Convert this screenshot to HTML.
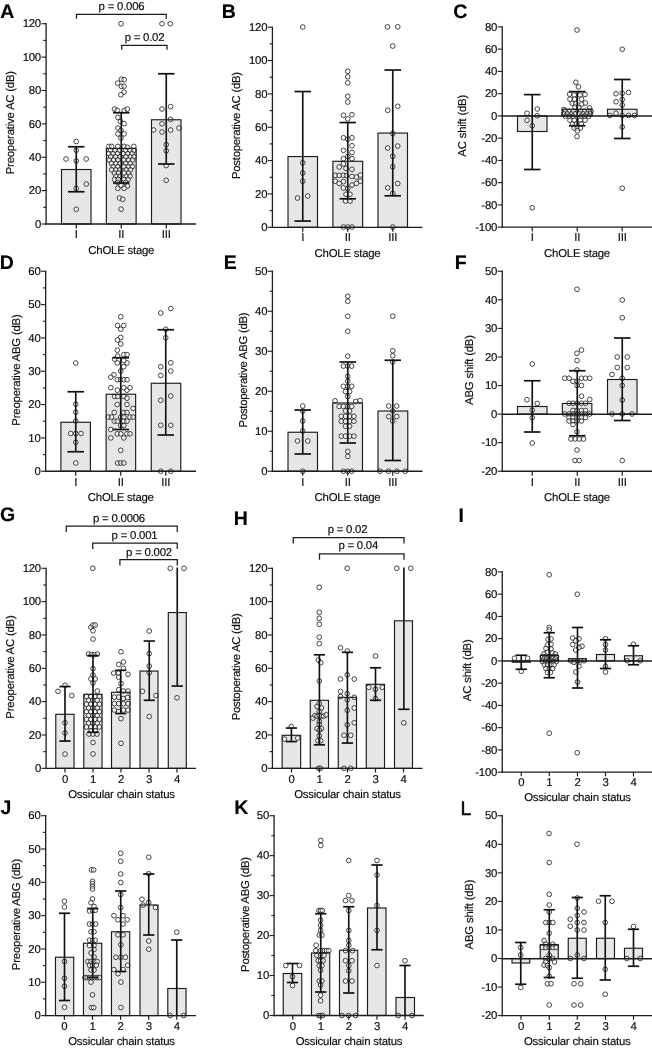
<!DOCTYPE html>
<html><head><meta charset="utf-8"><title>Figure</title>
<style>html,body{margin:0;padding:0;background:#fff}svg{display:block;will-change:transform}text{text-rendering:geometricPrecision;letter-spacing:-0.22px}</style></head>
<body>
<svg width="652" height="1049" viewBox="0 0 652 1049" font-family="'Liberation Sans', sans-serif">
<defs><pattern id="dots" width="2" height="2" patternUnits="userSpaceOnUse"><rect width="2" height="2" fill="#efefef"/><rect width="1" height="1" fill="#dedede"/><rect x="1" y="1" width="1" height="1" fill="#dedede"/></pattern></defs>
<rect width="652" height="1049" fill="#fff"/>
<rect x="61.50" y="169.50" width="29.50" height="54.50" fill="url(#dots)"/>
<rect x="106.38" y="148.50" width="29.75" height="75.50" fill="url(#dots)"/>
<rect x="151.50" y="119.75" width="29.50" height="104.25" fill="url(#dots)"/>
<g fill="#fff" fill-opacity="0.5" stroke="#1e1e1e" stroke-width="0.82">
<circle cx="76.25" cy="141.50" r="2.35"/>
<circle cx="76.25" cy="150.25" r="2.35"/>
<circle cx="66.00" cy="159.00" r="2.35"/>
<circle cx="86.25" cy="159.00" r="2.35"/>
<circle cx="76.25" cy="161.00" r="2.35"/>
<circle cx="86.25" cy="184.00" r="2.35"/>
<circle cx="76.25" cy="188.50" r="2.35"/>
<circle cx="76.25" cy="209.25" r="2.35"/>
<circle cx="162.00" cy="23.75" r="2.35"/>
<circle cx="170.25" cy="23.75" r="2.35"/>
<circle cx="162.00" cy="109.00" r="2.35"/>
<circle cx="170.60" cy="106.60" r="2.35"/>
<circle cx="170.60" cy="119.40" r="2.35"/>
<circle cx="162.00" cy="123.80" r="2.35"/>
<circle cx="153.70" cy="130.00" r="2.35"/>
<circle cx="179.00" cy="128.00" r="2.35"/>
<circle cx="162.00" cy="132.00" r="2.35"/>
<circle cx="170.60" cy="130.00" r="2.35"/>
<circle cx="166.20" cy="144.70" r="2.35"/>
<circle cx="166.20" cy="150.80" r="2.35"/>
<circle cx="166.20" cy="165.60" r="2.35"/>
<circle cx="166.20" cy="180.30" r="2.35"/>
<circle cx="121.00" cy="23.75" r="2.35"/>
<circle cx="121.40" cy="79.20" r="2.35"/>
<circle cx="124.10" cy="79.70" r="2.35"/>
<circle cx="117.70" cy="83.10" r="2.35"/>
<circle cx="121.40" cy="86.40" r="2.35"/>
<circle cx="124.10" cy="86.10" r="2.35"/>
<circle cx="124.10" cy="92.10" r="2.35"/>
<circle cx="120.90" cy="94.70" r="2.35"/>
<circle cx="114.50" cy="109.10" r="2.35"/>
<circle cx="117.20" cy="110.50" r="2.35"/>
<circle cx="124.10" cy="110.50" r="2.35"/>
<circle cx="127.30" cy="109.10" r="2.35"/>
<circle cx="117.90" cy="117.40" r="2.35"/>
<circle cx="120.40" cy="121.50" r="2.35"/>
<circle cx="124.10" cy="123.60" r="2.35"/>
<circle cx="117.90" cy="128.00" r="2.35"/>
<circle cx="120.90" cy="130.30" r="2.35"/>
<circle cx="117.90" cy="133.90" r="2.35"/>
<circle cx="124.10" cy="133.90" r="2.35"/>
<circle cx="120.90" cy="138.10" r="2.35"/>
<circle cx="108.90" cy="146.40" r="2.35"/>
<circle cx="111.70" cy="146.40" r="2.35"/>
<circle cx="117.90" cy="146.40" r="2.35"/>
<circle cx="124.10" cy="146.40" r="2.35"/>
<circle cx="127.30" cy="147.30" r="2.35"/>
<circle cx="133.80" cy="146.40" r="2.35"/>
<circle cx="110.40" cy="150.40" r="2.35"/>
<circle cx="115.00" cy="150.40" r="2.35"/>
<circle cx="119.40" cy="150.40" r="2.35"/>
<circle cx="125.60" cy="150.40" r="2.35"/>
<circle cx="130.00" cy="150.40" r="2.35"/>
<circle cx="133.80" cy="150.40" r="2.35"/>
<circle cx="108.80" cy="153.60" r="2.35"/>
<circle cx="113.00" cy="153.60" r="2.35"/>
<circle cx="117.40" cy="153.60" r="2.35"/>
<circle cx="123.00" cy="153.60" r="2.35"/>
<circle cx="127.80" cy="153.60" r="2.35"/>
<circle cx="132.00" cy="153.60" r="2.35"/>
<circle cx="110.80" cy="156.80" r="2.35"/>
<circle cx="115.40" cy="156.80" r="2.35"/>
<circle cx="120.00" cy="156.80" r="2.35"/>
<circle cx="126.00" cy="156.80" r="2.35"/>
<circle cx="130.40" cy="156.80" r="2.35"/>
<circle cx="134.00" cy="156.80" r="2.35"/>
<circle cx="109.20" cy="160.00" r="2.35"/>
<circle cx="113.60" cy="160.00" r="2.35"/>
<circle cx="118.00" cy="160.00" r="2.35"/>
<circle cx="124.00" cy="160.00" r="2.35"/>
<circle cx="128.60" cy="160.00" r="2.35"/>
<circle cx="132.60" cy="160.00" r="2.35"/>
<circle cx="111.60" cy="163.40" r="2.35"/>
<circle cx="116.00" cy="163.40" r="2.35"/>
<circle cx="120.20" cy="163.40" r="2.35"/>
<circle cx="125.80" cy="163.40" r="2.35"/>
<circle cx="130.20" cy="163.40" r="2.35"/>
<circle cx="113.20" cy="166.60" r="2.35"/>
<circle cx="117.60" cy="166.60" r="2.35"/>
<circle cx="124.00" cy="166.60" r="2.35"/>
<circle cx="128.40" cy="166.60" r="2.35"/>
<circle cx="132.20" cy="166.60" r="2.35"/>
<circle cx="111.80" cy="169.80" r="2.35"/>
<circle cx="115.80" cy="169.80" r="2.35"/>
<circle cx="120.00" cy="169.80" r="2.35"/>
<circle cx="126.20" cy="169.80" r="2.35"/>
<circle cx="130.40" cy="169.80" r="2.35"/>
<circle cx="114.40" cy="173.00" r="2.35"/>
<circle cx="118.40" cy="173.00" r="2.35"/>
<circle cx="124.40" cy="173.00" r="2.35"/>
<circle cx="128.60" cy="173.00" r="2.35"/>
<circle cx="116.00" cy="176.20" r="2.35"/>
<circle cx="120.00" cy="176.20" r="2.35"/>
<circle cx="126.20" cy="176.20" r="2.35"/>
<circle cx="130.00" cy="176.20" r="2.35"/>
<circle cx="114.60" cy="179.40" r="2.35"/>
<circle cx="118.20" cy="179.40" r="2.35"/>
<circle cx="124.20" cy="179.40" r="2.35"/>
<circle cx="128.00" cy="179.40" r="2.35"/>
<circle cx="117.60" cy="182.40" r="2.35"/>
<circle cx="125.60" cy="182.40" r="2.35"/>
<circle cx="127.30" cy="186.00" r="2.35"/>
<circle cx="121.00" cy="185.50" r="2.35"/>
<circle cx="117.70" cy="188.30" r="2.35"/>
<circle cx="124.10" cy="188.30" r="2.35"/>
<circle cx="119.50" cy="198.00" r="2.35"/>
<circle cx="122.70" cy="199.30" r="2.35"/>
<circle cx="121.10" cy="209.20" r="2.35"/>
</g>
<rect x="61.50" y="169.50" width="29.50" height="54.50" fill="none" stroke="#1c1c1c" stroke-width="1.15"/>
<rect x="106.38" y="148.50" width="29.75" height="75.50" fill="none" stroke="#1c1c1c" stroke-width="1.15"/>
<rect x="151.50" y="119.75" width="29.50" height="104.25" fill="none" stroke="#1c1c1c" stroke-width="1.15"/>
<line x1="76.25" y1="146.75" x2="76.25" y2="191.75" stroke="#111" stroke-width="1.65" stroke-linecap="butt"/>
<line x1="68.00" y1="146.75" x2="84.50" y2="146.75" stroke="#111" stroke-width="1.7" stroke-linecap="butt"/>
<line x1="68.00" y1="191.75" x2="84.50" y2="191.75" stroke="#111" stroke-width="1.7" stroke-linecap="butt"/>
<line x1="121.25" y1="112.75" x2="121.25" y2="183.00" stroke="#111" stroke-width="1.65" stroke-linecap="butt"/>
<line x1="113.00" y1="112.75" x2="129.50" y2="112.75" stroke="#111" stroke-width="1.7" stroke-linecap="butt"/>
<line x1="113.00" y1="183.00" x2="129.50" y2="183.00" stroke="#111" stroke-width="1.7" stroke-linecap="butt"/>
<line x1="166.25" y1="73.75" x2="166.25" y2="164.00" stroke="#111" stroke-width="1.65" stroke-linecap="butt"/>
<line x1="158.00" y1="73.75" x2="174.50" y2="73.75" stroke="#111" stroke-width="1.7" stroke-linecap="butt"/>
<line x1="158.00" y1="164.00" x2="174.50" y2="164.00" stroke="#111" stroke-width="1.7" stroke-linecap="butt"/>
<line x1="46.10" y1="23.10" x2="46.10" y2="224.65" stroke="#1c1c1c" stroke-width="1.3" stroke-linecap="butt"/>
<line x1="41.50" y1="23.72" x2="46.10" y2="23.72" stroke="#1c1c1c" stroke-width="1.1" stroke-linecap="butt"/>
<text x="41.00" y="27.42" font-size="11.4" text-anchor="end" fill="#0a0a0a" stroke="#0a0a0a" stroke-width="0.15">120</text>
<line x1="41.50" y1="57.10" x2="46.10" y2="57.10" stroke="#1c1c1c" stroke-width="1.1" stroke-linecap="butt"/>
<text x="41.00" y="60.80" font-size="11.4" text-anchor="end" fill="#0a0a0a" stroke="#0a0a0a" stroke-width="0.15">100</text>
<line x1="41.50" y1="90.48" x2="46.10" y2="90.48" stroke="#1c1c1c" stroke-width="1.1" stroke-linecap="butt"/>
<text x="41.00" y="94.18" font-size="11.4" text-anchor="end" fill="#0a0a0a" stroke="#0a0a0a" stroke-width="0.15">80</text>
<line x1="41.50" y1="123.86" x2="46.10" y2="123.86" stroke="#1c1c1c" stroke-width="1.1" stroke-linecap="butt"/>
<text x="41.00" y="127.56" font-size="11.4" text-anchor="end" fill="#0a0a0a" stroke="#0a0a0a" stroke-width="0.15">60</text>
<line x1="41.50" y1="157.24" x2="46.10" y2="157.24" stroke="#1c1c1c" stroke-width="1.1" stroke-linecap="butt"/>
<text x="41.00" y="160.94" font-size="11.4" text-anchor="end" fill="#0a0a0a" stroke="#0a0a0a" stroke-width="0.15">40</text>
<line x1="41.50" y1="190.62" x2="46.10" y2="190.62" stroke="#1c1c1c" stroke-width="1.1" stroke-linecap="butt"/>
<text x="41.00" y="194.32" font-size="11.4" text-anchor="end" fill="#0a0a0a" stroke="#0a0a0a" stroke-width="0.15">20</text>
<line x1="41.50" y1="224.00" x2="46.10" y2="224.00" stroke="#1c1c1c" stroke-width="1.1" stroke-linecap="butt"/>
<text x="41.00" y="227.70" font-size="11.4" text-anchor="end" fill="#0a0a0a" stroke="#0a0a0a" stroke-width="0.15">0</text>
<line x1="43.30" y1="40.41" x2="46.10" y2="40.41" stroke="#1c1c1c" stroke-width="1.1" stroke-linecap="butt"/>
<line x1="43.30" y1="73.79" x2="46.10" y2="73.79" stroke="#1c1c1c" stroke-width="1.1" stroke-linecap="butt"/>
<line x1="43.30" y1="107.17" x2="46.10" y2="107.17" stroke="#1c1c1c" stroke-width="1.1" stroke-linecap="butt"/>
<line x1="43.30" y1="140.55" x2="46.10" y2="140.55" stroke="#1c1c1c" stroke-width="1.1" stroke-linecap="butt"/>
<line x1="43.30" y1="173.93" x2="46.10" y2="173.93" stroke="#1c1c1c" stroke-width="1.1" stroke-linecap="butt"/>
<line x1="43.30" y1="207.31" x2="46.10" y2="207.31" stroke="#1c1c1c" stroke-width="1.1" stroke-linecap="butt"/>
<line x1="45.45" y1="224.00" x2="196.00" y2="224.00" stroke="#1c1c1c" stroke-width="1.3" stroke-linecap="butt"/>
<line x1="76.25" y1="224.00" x2="76.25" y2="228.40" stroke="#1c1c1c" stroke-width="1.2" stroke-linecap="butt"/>
<text x="76.25" y="238.00" font-size="11.4" text-anchor="middle" fill="#0a0a0a" stroke="#0a0a0a" stroke-width="0.15">I</text>
<line x1="121.25" y1="224.00" x2="121.25" y2="228.40" stroke="#1c1c1c" stroke-width="1.2" stroke-linecap="butt"/>
<text x="121.25" y="238.00" font-size="11.4" text-anchor="middle" fill="#0a0a0a" stroke="#0a0a0a" stroke-width="0.15">II</text>
<line x1="166.25" y1="224.00" x2="166.25" y2="228.40" stroke="#1c1c1c" stroke-width="1.2" stroke-linecap="butt"/>
<text x="166.25" y="238.00" font-size="11.4" text-anchor="middle" fill="#0a0a0a" stroke="#0a0a0a" stroke-width="0.15">III</text>
<text x="121.25" y="254.00" font-size="11.4" text-anchor="middle" fill="#0a0a0a" stroke="#0a0a0a" stroke-width="0.15">ChOLE stage</text>
<text x="13.60" y="122.70" font-size="11.4" text-anchor="middle" transform="rotate(-90 13.60 122.70)" fill="#0a0a0a" stroke="#0a0a0a" stroke-width="0.15">Preoperative AC (dB)</text>
<text x="0.30" y="18.00" font-size="19.5" text-anchor="start" font-weight="bold" fill="#000" stroke="#000" stroke-width="0.15">A</text>
<path d="M76.50 18.75V14.25H166.25V18.75" fill="none" stroke="#1c1c1c" stroke-width="1.25"/>
<text x="121.50" y="9.50" font-size="11.4" text-anchor="middle" fill="#0a0a0a" stroke="#0a0a0a" stroke-width="0.15">p = 0.006</text>
<path d="M121.75 49.75V45.25H167.00V49.75" fill="none" stroke="#1c1c1c" stroke-width="1.25"/>
<text x="144.50" y="40.50" font-size="11.4" text-anchor="middle" fill="#0a0a0a" stroke="#0a0a0a" stroke-width="0.15">p = 0.02</text>
<rect x="288.00" y="156.55" width="29.50" height="70.75" fill="url(#dots)"/>
<rect x="332.88" y="161.30" width="29.75" height="66.00" fill="url(#dots)"/>
<rect x="378.00" y="133.05" width="29.50" height="94.25" fill="url(#dots)"/>
<g fill="#fff" fill-opacity="0.5" stroke="#1e1e1e" stroke-width="0.82">
<circle cx="302.75" cy="27.05" r="2.35"/>
<circle cx="302.75" cy="162.80" r="2.35"/>
<circle cx="302.75" cy="173.05" r="2.35"/>
<circle cx="302.75" cy="181.30" r="2.35"/>
<circle cx="297.50" cy="198.05" r="2.35"/>
<circle cx="307.75" cy="196.05" r="2.35"/>
<circle cx="387.50" cy="26.80" r="2.35"/>
<circle cx="397.75" cy="26.80" r="2.35"/>
<circle cx="392.75" cy="46.05" r="2.35"/>
<circle cx="387.75" cy="110.30" r="2.35"/>
<circle cx="397.75" cy="106.30" r="2.35"/>
<circle cx="392.75" cy="133.55" r="2.35"/>
<circle cx="387.75" cy="148.05" r="2.35"/>
<circle cx="397.75" cy="146.05" r="2.35"/>
<circle cx="392.75" cy="156.30" r="2.35"/>
<circle cx="392.75" cy="166.80" r="2.35"/>
<circle cx="397.75" cy="183.55" r="2.35"/>
<circle cx="387.75" cy="187.80" r="2.35"/>
<circle cx="392.75" cy="193.55" r="2.35"/>
<circle cx="392.75" cy="227.05" r="2.35"/>
<circle cx="347.75" cy="71.30" r="2.35"/>
<circle cx="347.75" cy="76.80" r="2.35"/>
<circle cx="347.75" cy="82.80" r="2.35"/>
<circle cx="347.75" cy="96.30" r="2.35"/>
<circle cx="347.75" cy="102.05" r="2.35"/>
<circle cx="343.40" cy="115.25" r="2.35"/>
<circle cx="352.00" cy="114.65" r="2.35"/>
<circle cx="347.80" cy="118.95" r="2.35"/>
<circle cx="343.40" cy="137.75" r="2.35"/>
<circle cx="352.00" cy="137.75" r="2.35"/>
<circle cx="347.80" cy="139.25" r="2.35"/>
<circle cx="352.00" cy="145.75" r="2.35"/>
<circle cx="343.40" cy="150.35" r="2.35"/>
<circle cx="352.00" cy="152.45" r="2.35"/>
<circle cx="347.80" cy="156.45" r="2.35"/>
<circle cx="343.40" cy="158.75" r="2.35"/>
<circle cx="352.00" cy="158.75" r="2.35"/>
<circle cx="343.40" cy="163.85" r="2.35"/>
<circle cx="339.20" cy="166.95" r="2.35"/>
<circle cx="346.00" cy="168.45" r="2.35"/>
<circle cx="352.00" cy="169.25" r="2.35"/>
<circle cx="335.20" cy="175.35" r="2.35"/>
<circle cx="339.20" cy="175.35" r="2.35"/>
<circle cx="343.40" cy="175.35" r="2.35"/>
<circle cx="346.50" cy="175.65" r="2.35"/>
<circle cx="352.00" cy="176.45" r="2.35"/>
<circle cx="356.40" cy="177.05" r="2.35"/>
<circle cx="360.40" cy="175.05" r="2.35"/>
<circle cx="335.20" cy="181.25" r="2.35"/>
<circle cx="339.20" cy="183.35" r="2.35"/>
<circle cx="343.40" cy="181.65" r="2.35"/>
<circle cx="352.00" cy="185.05" r="2.35"/>
<circle cx="356.40" cy="183.35" r="2.35"/>
<circle cx="360.40" cy="181.25" r="2.35"/>
<circle cx="343.40" cy="187.95" r="2.35"/>
<circle cx="347.80" cy="188.55" r="2.35"/>
<circle cx="346.00" cy="194.25" r="2.35"/>
<circle cx="350.00" cy="194.25" r="2.35"/>
<circle cx="345.50" cy="201.05" r="2.35"/>
<circle cx="350.00" cy="201.05" r="2.35"/>
<circle cx="343.40" cy="227.05" r="2.35"/>
<circle cx="347.80" cy="227.05" r="2.35"/>
<circle cx="352.00" cy="227.05" r="2.35"/>
</g>
<rect x="288.00" y="156.55" width="29.50" height="70.75" fill="none" stroke="#1c1c1c" stroke-width="1.15"/>
<rect x="332.88" y="161.30" width="29.75" height="66.00" fill="none" stroke="#1c1c1c" stroke-width="1.15"/>
<rect x="378.00" y="133.05" width="29.50" height="94.25" fill="none" stroke="#1c1c1c" stroke-width="1.15"/>
<line x1="302.75" y1="91.55" x2="302.75" y2="221.05" stroke="#111" stroke-width="1.65" stroke-linecap="butt"/>
<line x1="294.50" y1="91.55" x2="311.00" y2="91.55" stroke="#111" stroke-width="1.7" stroke-linecap="butt"/>
<line x1="294.50" y1="221.05" x2="311.00" y2="221.05" stroke="#111" stroke-width="1.7" stroke-linecap="butt"/>
<line x1="347.75" y1="122.55" x2="347.75" y2="198.80" stroke="#111" stroke-width="1.65" stroke-linecap="butt"/>
<line x1="339.50" y1="122.55" x2="356.00" y2="122.55" stroke="#111" stroke-width="1.7" stroke-linecap="butt"/>
<line x1="339.50" y1="198.80" x2="356.00" y2="198.80" stroke="#111" stroke-width="1.7" stroke-linecap="butt"/>
<line x1="392.75" y1="70.05" x2="392.75" y2="195.80" stroke="#111" stroke-width="1.65" stroke-linecap="butt"/>
<line x1="384.50" y1="70.05" x2="401.00" y2="70.05" stroke="#111" stroke-width="1.7" stroke-linecap="butt"/>
<line x1="384.50" y1="195.80" x2="401.00" y2="195.80" stroke="#111" stroke-width="1.7" stroke-linecap="butt"/>
<line x1="272.40" y1="26.60" x2="272.40" y2="228.00" stroke="#1c1c1c" stroke-width="1.3" stroke-linecap="butt"/>
<line x1="267.80" y1="27.20" x2="272.40" y2="27.20" stroke="#1c1c1c" stroke-width="1.1" stroke-linecap="butt"/>
<text x="267.30" y="30.90" font-size="11.4" text-anchor="end" fill="#0a0a0a" stroke="#0a0a0a" stroke-width="0.15">120</text>
<line x1="267.80" y1="60.55" x2="272.40" y2="60.55" stroke="#1c1c1c" stroke-width="1.1" stroke-linecap="butt"/>
<text x="267.30" y="64.25" font-size="11.4" text-anchor="end" fill="#0a0a0a" stroke="#0a0a0a" stroke-width="0.15">100</text>
<line x1="267.80" y1="93.90" x2="272.40" y2="93.90" stroke="#1c1c1c" stroke-width="1.1" stroke-linecap="butt"/>
<text x="267.30" y="97.60" font-size="11.4" text-anchor="end" fill="#0a0a0a" stroke="#0a0a0a" stroke-width="0.15">80</text>
<line x1="267.80" y1="127.25" x2="272.40" y2="127.25" stroke="#1c1c1c" stroke-width="1.1" stroke-linecap="butt"/>
<text x="267.30" y="130.95" font-size="11.4" text-anchor="end" fill="#0a0a0a" stroke="#0a0a0a" stroke-width="0.15">60</text>
<line x1="267.80" y1="160.60" x2="272.40" y2="160.60" stroke="#1c1c1c" stroke-width="1.1" stroke-linecap="butt"/>
<text x="267.30" y="164.30" font-size="11.4" text-anchor="end" fill="#0a0a0a" stroke="#0a0a0a" stroke-width="0.15">40</text>
<line x1="267.80" y1="193.95" x2="272.40" y2="193.95" stroke="#1c1c1c" stroke-width="1.1" stroke-linecap="butt"/>
<text x="267.30" y="197.65" font-size="11.4" text-anchor="end" fill="#0a0a0a" stroke="#0a0a0a" stroke-width="0.15">20</text>
<line x1="267.80" y1="227.30" x2="272.40" y2="227.30" stroke="#1c1c1c" stroke-width="1.1" stroke-linecap="butt"/>
<text x="267.30" y="231.00" font-size="11.4" text-anchor="end" fill="#0a0a0a" stroke="#0a0a0a" stroke-width="0.15">0</text>
<line x1="269.60" y1="43.88" x2="272.40" y2="43.88" stroke="#1c1c1c" stroke-width="1.1" stroke-linecap="butt"/>
<line x1="269.60" y1="77.23" x2="272.40" y2="77.23" stroke="#1c1c1c" stroke-width="1.1" stroke-linecap="butt"/>
<line x1="269.60" y1="110.58" x2="272.40" y2="110.58" stroke="#1c1c1c" stroke-width="1.1" stroke-linecap="butt"/>
<line x1="269.60" y1="143.93" x2="272.40" y2="143.93" stroke="#1c1c1c" stroke-width="1.1" stroke-linecap="butt"/>
<line x1="269.60" y1="177.28" x2="272.40" y2="177.28" stroke="#1c1c1c" stroke-width="1.1" stroke-linecap="butt"/>
<line x1="269.60" y1="210.62" x2="272.40" y2="210.62" stroke="#1c1c1c" stroke-width="1.1" stroke-linecap="butt"/>
<line x1="271.75" y1="227.30" x2="422.50" y2="227.30" stroke="#1c1c1c" stroke-width="1.3" stroke-linecap="butt"/>
<line x1="302.75" y1="227.30" x2="302.75" y2="231.70" stroke="#1c1c1c" stroke-width="1.2" stroke-linecap="butt"/>
<text x="302.75" y="241.00" font-size="11.4" text-anchor="middle" fill="#0a0a0a" stroke="#0a0a0a" stroke-width="0.15">I</text>
<line x1="347.75" y1="227.30" x2="347.75" y2="231.70" stroke="#1c1c1c" stroke-width="1.2" stroke-linecap="butt"/>
<text x="347.75" y="241.00" font-size="11.4" text-anchor="middle" fill="#0a0a0a" stroke="#0a0a0a" stroke-width="0.15">II</text>
<line x1="392.75" y1="227.30" x2="392.75" y2="231.70" stroke="#1c1c1c" stroke-width="1.2" stroke-linecap="butt"/>
<text x="392.75" y="241.00" font-size="11.4" text-anchor="middle" fill="#0a0a0a" stroke="#0a0a0a" stroke-width="0.15">III</text>
<text x="347.50" y="256.75" font-size="11.4" text-anchor="middle" fill="#0a0a0a" stroke="#0a0a0a" stroke-width="0.15">ChOLE stage</text>
<text x="240.10" y="125.60" font-size="11.4" text-anchor="middle" transform="rotate(-90 240.10 125.60)" style="letter-spacing:-0.28px" fill="#0a0a0a" stroke="#0a0a0a" stroke-width="0.15">Postoperative AC (dB)</text>
<text x="221.80" y="18.00" font-size="19.5" text-anchor="start" font-weight="bold" fill="#000" stroke="#000" stroke-width="0.15">B</text>
<rect x="517.50" y="115.90" width="29.50" height="15.60" fill="url(#dots)"/>
<rect x="562.35" y="109.25" width="29.50" height="6.65" fill="url(#dots)"/>
<rect x="607.50" y="109.25" width="29.50" height="6.65" fill="url(#dots)"/>
<g fill="#fff" fill-opacity="0.5" stroke="#1e1e1e" stroke-width="0.82">
<circle cx="527.00" cy="113.25" r="2.35"/>
<circle cx="537.25" cy="109.00" r="2.35"/>
<circle cx="527.00" cy="120.25" r="2.35"/>
<circle cx="537.25" cy="115.75" r="2.35"/>
<circle cx="532.25" cy="125.75" r="2.35"/>
<circle cx="532.25" cy="207.75" r="2.35"/>
<circle cx="622.25" cy="49.25" r="2.35"/>
<circle cx="616.00" cy="93.75" r="2.35"/>
<circle cx="622.25" cy="93.25" r="2.35"/>
<circle cx="628.50" cy="92.50" r="2.35"/>
<circle cx="616.00" cy="101.75" r="2.35"/>
<circle cx="622.25" cy="99.50" r="2.35"/>
<circle cx="622.25" cy="105.00" r="2.35"/>
<circle cx="616.00" cy="113.25" r="2.35"/>
<circle cx="609.75" cy="115.50" r="2.35"/>
<circle cx="622.25" cy="115.50" r="2.35"/>
<circle cx="628.50" cy="115.50" r="2.35"/>
<circle cx="634.50" cy="115.50" r="2.35"/>
<circle cx="622.25" cy="127.00" r="2.35"/>
<circle cx="622.25" cy="188.25" r="2.35"/>
<circle cx="577.00" cy="30.00" r="2.35"/>
<circle cx="577.00" cy="136.50" r="2.35"/>
<circle cx="575.80" cy="82.30" r="2.35"/>
<circle cx="578.50" cy="86.90" r="2.35"/>
<circle cx="569.60" cy="94.20" r="2.35"/>
<circle cx="574.20" cy="95.00" r="2.35"/>
<circle cx="580.00" cy="95.00" r="2.35"/>
<circle cx="585.00" cy="94.50" r="2.35"/>
<circle cx="570.00" cy="99.20" r="2.35"/>
<circle cx="574.60" cy="99.20" r="2.35"/>
<circle cx="581.50" cy="99.20" r="2.35"/>
<circle cx="572.30" cy="103.40" r="2.35"/>
<circle cx="575.80" cy="103.80" r="2.35"/>
<circle cx="581.90" cy="104.10" r="2.35"/>
<circle cx="585.40" cy="103.00" r="2.35"/>
<circle cx="575.00" cy="107.20" r="2.35"/>
<circle cx="578.80" cy="107.90" r="2.35"/>
<circle cx="589.60" cy="107.90" r="2.35"/>
<circle cx="563.90" cy="109.50" r="2.35"/>
<circle cx="565.50" cy="111.30" r="2.35"/>
<circle cx="569.30" cy="111.30" r="2.35"/>
<circle cx="573.00" cy="111.30" r="2.35"/>
<circle cx="580.80" cy="111.30" r="2.35"/>
<circle cx="584.60" cy="111.30" r="2.35"/>
<circle cx="588.40" cy="111.30" r="2.35"/>
<circle cx="591.00" cy="111.30" r="2.35"/>
<circle cx="563.60" cy="113.80" r="2.35"/>
<circle cx="567.40" cy="113.80" r="2.35"/>
<circle cx="571.20" cy="113.80" r="2.35"/>
<circle cx="575.00" cy="113.80" r="2.35"/>
<circle cx="579.50" cy="113.80" r="2.35"/>
<circle cx="583.00" cy="113.80" r="2.35"/>
<circle cx="586.70" cy="113.80" r="2.35"/>
<circle cx="590.30" cy="113.80" r="2.35"/>
<circle cx="565.50" cy="116.30" r="2.35"/>
<circle cx="569.30" cy="116.30" r="2.35"/>
<circle cx="573.00" cy="116.30" r="2.35"/>
<circle cx="581.00" cy="116.30" r="2.35"/>
<circle cx="584.80" cy="116.30" r="2.35"/>
<circle cx="588.60" cy="116.30" r="2.35"/>
<circle cx="570.00" cy="120.20" r="2.35"/>
<circle cx="574.20" cy="120.20" r="2.35"/>
<circle cx="580.40" cy="120.20" r="2.35"/>
<circle cx="585.00" cy="120.20" r="2.35"/>
<circle cx="572.50" cy="124.00" r="2.35"/>
<circle cx="576.30" cy="124.00" r="2.35"/>
<circle cx="581.20" cy="124.00" r="2.35"/>
<circle cx="574.20" cy="128.00" r="2.35"/>
<circle cx="577.30" cy="128.00" r="2.35"/>
<circle cx="580.40" cy="128.00" r="2.35"/>
<circle cx="577.30" cy="130.80" r="2.35"/>
</g>
<rect x="517.50" y="115.90" width="29.50" height="15.60" fill="none" stroke="#1c1c1c" stroke-width="1.15"/>
<rect x="562.35" y="109.25" width="29.50" height="6.65" fill="none" stroke="#1c1c1c" stroke-width="1.15"/>
<rect x="607.50" y="109.25" width="29.50" height="6.65" fill="none" stroke="#1c1c1c" stroke-width="1.15"/>
<line x1="532.25" y1="94.60" x2="532.25" y2="169.50" stroke="#111" stroke-width="1.65" stroke-linecap="butt"/>
<line x1="524.00" y1="94.60" x2="540.50" y2="94.60" stroke="#111" stroke-width="1.7" stroke-linecap="butt"/>
<line x1="524.00" y1="169.50" x2="540.50" y2="169.50" stroke="#111" stroke-width="1.7" stroke-linecap="butt"/>
<line x1="577.25" y1="91.60" x2="577.25" y2="125.75" stroke="#111" stroke-width="1.65" stroke-linecap="butt"/>
<line x1="569.00" y1="91.60" x2="585.50" y2="91.60" stroke="#111" stroke-width="1.7" stroke-linecap="butt"/>
<line x1="569.00" y1="125.75" x2="585.50" y2="125.75" stroke="#111" stroke-width="1.7" stroke-linecap="butt"/>
<line x1="622.25" y1="79.50" x2="622.25" y2="138.50" stroke="#111" stroke-width="1.65" stroke-linecap="butt"/>
<line x1="614.00" y1="79.50" x2="630.50" y2="79.50" stroke="#111" stroke-width="1.7" stroke-linecap="butt"/>
<line x1="614.00" y1="138.50" x2="630.50" y2="138.50" stroke="#111" stroke-width="1.7" stroke-linecap="butt"/>
<line x1="502.25" y1="26.35" x2="502.25" y2="227.80" stroke="#1c1c1c" stroke-width="1.3" stroke-linecap="butt"/>
<line x1="497.65" y1="26.90" x2="502.25" y2="26.90" stroke="#1c1c1c" stroke-width="1.1" stroke-linecap="butt"/>
<text x="497.15" y="30.60" font-size="11.4" text-anchor="end" fill="#0a0a0a" stroke="#0a0a0a" stroke-width="0.15">80</text>
<line x1="497.65" y1="49.15" x2="502.25" y2="49.15" stroke="#1c1c1c" stroke-width="1.1" stroke-linecap="butt"/>
<text x="497.15" y="52.85" font-size="11.4" text-anchor="end" fill="#0a0a0a" stroke="#0a0a0a" stroke-width="0.15">60</text>
<line x1="497.65" y1="71.40" x2="502.25" y2="71.40" stroke="#1c1c1c" stroke-width="1.1" stroke-linecap="butt"/>
<text x="497.15" y="75.10" font-size="11.4" text-anchor="end" fill="#0a0a0a" stroke="#0a0a0a" stroke-width="0.15">40</text>
<line x1="497.65" y1="93.65" x2="502.25" y2="93.65" stroke="#1c1c1c" stroke-width="1.1" stroke-linecap="butt"/>
<text x="497.15" y="97.35" font-size="11.4" text-anchor="end" fill="#0a0a0a" stroke="#0a0a0a" stroke-width="0.15">20</text>
<line x1="497.65" y1="115.90" x2="502.25" y2="115.90" stroke="#1c1c1c" stroke-width="1.1" stroke-linecap="butt"/>
<text x="497.15" y="119.60" font-size="11.4" text-anchor="end" fill="#0a0a0a" stroke="#0a0a0a" stroke-width="0.15">0</text>
<line x1="497.65" y1="138.15" x2="502.25" y2="138.15" stroke="#1c1c1c" stroke-width="1.1" stroke-linecap="butt"/>
<text x="497.15" y="141.85" font-size="11.4" text-anchor="end" fill="#0a0a0a" stroke="#0a0a0a" stroke-width="0.15">-20</text>
<line x1="497.65" y1="160.40" x2="502.25" y2="160.40" stroke="#1c1c1c" stroke-width="1.1" stroke-linecap="butt"/>
<text x="497.15" y="164.10" font-size="11.4" text-anchor="end" fill="#0a0a0a" stroke="#0a0a0a" stroke-width="0.15">-40</text>
<line x1="497.65" y1="182.65" x2="502.25" y2="182.65" stroke="#1c1c1c" stroke-width="1.1" stroke-linecap="butt"/>
<text x="497.15" y="186.35" font-size="11.4" text-anchor="end" fill="#0a0a0a" stroke="#0a0a0a" stroke-width="0.15">-60</text>
<line x1="497.65" y1="204.90" x2="502.25" y2="204.90" stroke="#1c1c1c" stroke-width="1.1" stroke-linecap="butt"/>
<text x="497.15" y="208.60" font-size="11.4" text-anchor="end" fill="#0a0a0a" stroke="#0a0a0a" stroke-width="0.15">-80</text>
<line x1="497.65" y1="227.15" x2="502.25" y2="227.15" stroke="#1c1c1c" stroke-width="1.1" stroke-linecap="butt"/>
<text x="497.15" y="230.85" font-size="11.4" text-anchor="end" fill="#0a0a0a" stroke="#0a0a0a" stroke-width="0.15">-100</text>
<line x1="501.60" y1="116.05" x2="652.00" y2="116.05" stroke="#1c1c1c" stroke-width="1.45" stroke-linecap="butt"/>
<line x1="501.60" y1="227.15" x2="652.00" y2="227.15" stroke="#1c1c1c" stroke-width="1.3" stroke-linecap="butt"/>
<line x1="532.25" y1="227.15" x2="532.25" y2="231.55" stroke="#1c1c1c" stroke-width="1.2" stroke-linecap="butt"/>
<text x="532.25" y="241.00" font-size="11.4" text-anchor="middle" fill="#0a0a0a" stroke="#0a0a0a" stroke-width="0.15">I</text>
<line x1="577.25" y1="227.15" x2="577.25" y2="231.55" stroke="#1c1c1c" stroke-width="1.2" stroke-linecap="butt"/>
<text x="577.25" y="241.00" font-size="11.4" text-anchor="middle" fill="#0a0a0a" stroke="#0a0a0a" stroke-width="0.15">II</text>
<line x1="622.25" y1="227.15" x2="622.25" y2="231.55" stroke="#1c1c1c" stroke-width="1.2" stroke-linecap="butt"/>
<text x="622.25" y="241.00" font-size="11.4" text-anchor="middle" fill="#0a0a0a" stroke="#0a0a0a" stroke-width="0.15">III</text>
<text x="577.00" y="256.75" font-size="11.4" text-anchor="middle" fill="#0a0a0a" stroke="#0a0a0a" stroke-width="0.15">ChOLE stage</text>
<text x="466.40" y="125.80" font-size="11.4" text-anchor="middle" transform="rotate(-90 466.40 125.80)" fill="#0a0a0a" stroke="#0a0a0a" stroke-width="0.15">AC shift (dB)</text>
<text x="453.30" y="18.00" font-size="19.5" text-anchor="start" font-weight="bold" fill="#000" stroke="#000" stroke-width="0.15">C</text>
<rect x="60.90" y="422.25" width="29.50" height="49.00" fill="url(#dots)"/>
<rect x="106.15" y="394.25" width="29.50" height="77.00" fill="url(#dots)"/>
<rect x="151.25" y="383.25" width="29.50" height="88.00" fill="url(#dots)"/>
<g fill="#fff" fill-opacity="0.5" stroke="#1e1e1e" stroke-width="0.82">
<circle cx="75.75" cy="363.00" r="2.35"/>
<circle cx="75.75" cy="404.25" r="2.35"/>
<circle cx="75.75" cy="412.25" r="2.35"/>
<circle cx="75.75" cy="421.00" r="2.35"/>
<circle cx="70.75" cy="433.50" r="2.35"/>
<circle cx="75.75" cy="433.50" r="2.35"/>
<circle cx="81.00" cy="433.50" r="2.35"/>
<circle cx="75.75" cy="442.25" r="2.35"/>
<circle cx="75.75" cy="463.00" r="2.35"/>
<circle cx="160.75" cy="313.00" r="2.35"/>
<circle cx="170.75" cy="308.50" r="2.35"/>
<circle cx="165.75" cy="329.25" r="2.35"/>
<circle cx="165.75" cy="337.75" r="2.35"/>
<circle cx="160.75" cy="366.75" r="2.35"/>
<circle cx="170.75" cy="362.75" r="2.35"/>
<circle cx="170.75" cy="371.00" r="2.35"/>
<circle cx="160.75" cy="375.50" r="2.35"/>
<circle cx="160.75" cy="400.25" r="2.35"/>
<circle cx="170.75" cy="396.00" r="2.35"/>
<circle cx="160.75" cy="425.25" r="2.35"/>
<circle cx="170.75" cy="425.25" r="2.35"/>
<circle cx="160.75" cy="471.25" r="2.35"/>
<circle cx="170.75" cy="471.25" r="2.35"/>
<circle cx="120.75" cy="316.75" r="2.35"/>
<circle cx="117.50" cy="325.50" r="2.35"/>
<circle cx="123.75" cy="325.50" r="2.35"/>
<circle cx="120.75" cy="329.25" r="2.35"/>
<circle cx="120.75" cy="337.50" r="2.35"/>
<circle cx="117.50" cy="340.00" r="2.35"/>
<circle cx="120.75" cy="344.00" r="2.35"/>
<circle cx="117.30" cy="350.20" r="2.35"/>
<circle cx="123.80" cy="354.60" r="2.35"/>
<circle cx="127.00" cy="354.60" r="2.35"/>
<circle cx="117.70" cy="356.10" r="2.35"/>
<circle cx="114.60" cy="359.20" r="2.35"/>
<circle cx="117.30" cy="362.90" r="2.35"/>
<circle cx="127.00" cy="362.90" r="2.35"/>
<circle cx="123.80" cy="360.50" r="2.35"/>
<circle cx="123.80" cy="366.70" r="2.35"/>
<circle cx="120.75" cy="371.00" r="2.35"/>
<circle cx="113.90" cy="374.70" r="2.35"/>
<circle cx="110.80" cy="377.20" r="2.35"/>
<circle cx="117.30" cy="379.70" r="2.35"/>
<circle cx="120.50" cy="379.70" r="2.35"/>
<circle cx="123.80" cy="379.70" r="2.35"/>
<circle cx="127.00" cy="379.70" r="2.35"/>
<circle cx="110.80" cy="387.70" r="2.35"/>
<circle cx="117.30" cy="390.20" r="2.35"/>
<circle cx="123.80" cy="387.70" r="2.35"/>
<circle cx="127.00" cy="390.20" r="2.35"/>
<circle cx="130.00" cy="387.70" r="2.35"/>
<circle cx="114.60" cy="396.40" r="2.35"/>
<circle cx="117.70" cy="396.40" r="2.35"/>
<circle cx="123.80" cy="396.40" r="2.35"/>
<circle cx="127.00" cy="398.20" r="2.35"/>
<circle cx="117.30" cy="404.50" r="2.35"/>
<circle cx="127.00" cy="404.50" r="2.35"/>
<circle cx="133.10" cy="408.40" r="2.35"/>
<circle cx="114.30" cy="412.50" r="2.35"/>
<circle cx="123.80" cy="412.50" r="2.35"/>
<circle cx="127.00" cy="412.50" r="2.35"/>
<circle cx="108.40" cy="417.10" r="2.35"/>
<circle cx="111.50" cy="417.10" r="2.35"/>
<circle cx="120.75" cy="417.10" r="2.35"/>
<circle cx="123.80" cy="417.10" r="2.35"/>
<circle cx="130.00" cy="417.10" r="2.35"/>
<circle cx="133.10" cy="417.10" r="2.35"/>
<circle cx="114.30" cy="421.20" r="2.35"/>
<circle cx="117.30" cy="421.20" r="2.35"/>
<circle cx="123.80" cy="421.20" r="2.35"/>
<circle cx="127.00" cy="421.20" r="2.35"/>
<circle cx="120.75" cy="425.50" r="2.35"/>
<circle cx="123.80" cy="425.50" r="2.35"/>
<circle cx="110.80" cy="429.50" r="2.35"/>
<circle cx="117.30" cy="433.80" r="2.35"/>
<circle cx="120.75" cy="433.80" r="2.35"/>
<circle cx="127.00" cy="433.80" r="2.35"/>
<circle cx="130.00" cy="433.80" r="2.35"/>
<circle cx="110.80" cy="437.90" r="2.35"/>
<circle cx="123.80" cy="437.90" r="2.35"/>
<circle cx="120.75" cy="450.30" r="2.35"/>
<circle cx="117.70" cy="463.00" r="2.35"/>
<circle cx="120.75" cy="463.00" r="2.35"/>
<circle cx="123.80" cy="463.00" r="2.35"/>
</g>
<rect x="60.90" y="422.25" width="29.50" height="49.00" fill="none" stroke="#1c1c1c" stroke-width="1.15"/>
<rect x="106.15" y="394.25" width="29.50" height="77.00" fill="none" stroke="#1c1c1c" stroke-width="1.15"/>
<rect x="151.25" y="383.25" width="29.50" height="88.00" fill="none" stroke="#1c1c1c" stroke-width="1.15"/>
<line x1="75.75" y1="391.75" x2="75.75" y2="451.75" stroke="#111" stroke-width="1.65" stroke-linecap="butt"/>
<line x1="67.50" y1="391.75" x2="84.00" y2="391.75" stroke="#111" stroke-width="1.7" stroke-linecap="butt"/>
<line x1="67.50" y1="451.75" x2="84.00" y2="451.75" stroke="#111" stroke-width="1.7" stroke-linecap="butt"/>
<line x1="120.75" y1="357.75" x2="120.75" y2="429.50" stroke="#111" stroke-width="1.65" stroke-linecap="butt"/>
<line x1="112.50" y1="357.75" x2="129.00" y2="357.75" stroke="#111" stroke-width="1.7" stroke-linecap="butt"/>
<line x1="112.50" y1="429.50" x2="129.00" y2="429.50" stroke="#111" stroke-width="1.7" stroke-linecap="butt"/>
<line x1="165.75" y1="329.75" x2="165.75" y2="435.00" stroke="#111" stroke-width="1.65" stroke-linecap="butt"/>
<line x1="157.50" y1="329.75" x2="174.00" y2="329.75" stroke="#111" stroke-width="1.7" stroke-linecap="butt"/>
<line x1="157.50" y1="435.00" x2="174.00" y2="435.00" stroke="#111" stroke-width="1.7" stroke-linecap="butt"/>
<line x1="45.65" y1="270.70" x2="45.65" y2="471.90" stroke="#1c1c1c" stroke-width="1.3" stroke-linecap="butt"/>
<line x1="41.05" y1="271.25" x2="45.65" y2="271.25" stroke="#1c1c1c" stroke-width="1.1" stroke-linecap="butt"/>
<text x="40.55" y="274.95" font-size="11.4" text-anchor="end" fill="#0a0a0a" stroke="#0a0a0a" stroke-width="0.15">60</text>
<line x1="41.05" y1="304.59" x2="45.65" y2="304.59" stroke="#1c1c1c" stroke-width="1.1" stroke-linecap="butt"/>
<text x="40.55" y="308.29" font-size="11.4" text-anchor="end" fill="#0a0a0a" stroke="#0a0a0a" stroke-width="0.15">50</text>
<line x1="41.05" y1="337.92" x2="45.65" y2="337.92" stroke="#1c1c1c" stroke-width="1.1" stroke-linecap="butt"/>
<text x="40.55" y="341.62" font-size="11.4" text-anchor="end" fill="#0a0a0a" stroke="#0a0a0a" stroke-width="0.15">40</text>
<line x1="41.05" y1="371.25" x2="45.65" y2="371.25" stroke="#1c1c1c" stroke-width="1.1" stroke-linecap="butt"/>
<text x="40.55" y="374.95" font-size="11.4" text-anchor="end" fill="#0a0a0a" stroke="#0a0a0a" stroke-width="0.15">30</text>
<line x1="41.05" y1="404.58" x2="45.65" y2="404.58" stroke="#1c1c1c" stroke-width="1.1" stroke-linecap="butt"/>
<text x="40.55" y="408.28" font-size="11.4" text-anchor="end" fill="#0a0a0a" stroke="#0a0a0a" stroke-width="0.15">20</text>
<line x1="41.05" y1="437.92" x2="45.65" y2="437.92" stroke="#1c1c1c" stroke-width="1.1" stroke-linecap="butt"/>
<text x="40.55" y="441.62" font-size="11.4" text-anchor="end" fill="#0a0a0a" stroke="#0a0a0a" stroke-width="0.15">10</text>
<line x1="41.05" y1="471.25" x2="45.65" y2="471.25" stroke="#1c1c1c" stroke-width="1.1" stroke-linecap="butt"/>
<text x="40.55" y="474.95" font-size="11.4" text-anchor="end" fill="#0a0a0a" stroke="#0a0a0a" stroke-width="0.15">0</text>
<line x1="42.85" y1="287.92" x2="45.65" y2="287.92" stroke="#1c1c1c" stroke-width="1.1" stroke-linecap="butt"/>
<line x1="42.85" y1="321.25" x2="45.65" y2="321.25" stroke="#1c1c1c" stroke-width="1.1" stroke-linecap="butt"/>
<line x1="42.85" y1="354.58" x2="45.65" y2="354.58" stroke="#1c1c1c" stroke-width="1.1" stroke-linecap="butt"/>
<line x1="42.85" y1="387.92" x2="45.65" y2="387.92" stroke="#1c1c1c" stroke-width="1.1" stroke-linecap="butt"/>
<line x1="42.85" y1="421.25" x2="45.65" y2="421.25" stroke="#1c1c1c" stroke-width="1.1" stroke-linecap="butt"/>
<line x1="42.85" y1="454.58" x2="45.65" y2="454.58" stroke="#1c1c1c" stroke-width="1.1" stroke-linecap="butt"/>
<line x1="45.00" y1="471.25" x2="196.00" y2="471.25" stroke="#1c1c1c" stroke-width="1.3" stroke-linecap="butt"/>
<line x1="75.75" y1="471.25" x2="75.75" y2="475.65" stroke="#1c1c1c" stroke-width="1.2" stroke-linecap="butt"/>
<text x="75.75" y="485.50" font-size="11.4" text-anchor="middle" fill="#0a0a0a" stroke="#0a0a0a" stroke-width="0.15">I</text>
<line x1="120.75" y1="471.25" x2="120.75" y2="475.65" stroke="#1c1c1c" stroke-width="1.2" stroke-linecap="butt"/>
<text x="120.75" y="485.50" font-size="11.4" text-anchor="middle" fill="#0a0a0a" stroke="#0a0a0a" stroke-width="0.15">II</text>
<line x1="165.75" y1="471.25" x2="165.75" y2="475.65" stroke="#1c1c1c" stroke-width="1.2" stroke-linecap="butt"/>
<text x="165.75" y="485.50" font-size="11.4" text-anchor="middle" fill="#0a0a0a" stroke="#0a0a0a" stroke-width="0.15">III</text>
<text x="120.75" y="500.50" font-size="11.4" text-anchor="middle" fill="#0a0a0a" stroke="#0a0a0a" stroke-width="0.15">ChOLE stage</text>
<text x="19.90" y="370.05" font-size="11.4" text-anchor="middle" transform="rotate(-90 19.90 370.05)" fill="#0a0a0a" stroke="#0a0a0a" stroke-width="0.15">Preoperative ABG (dB)</text>
<text x="-0.20" y="268.75" font-size="19.5" text-anchor="start" font-weight="bold" fill="#000" stroke="#000" stroke-width="0.15">D</text>
<rect x="288.00" y="432.25" width="29.50" height="39.00" fill="url(#dots)"/>
<rect x="332.73" y="403.00" width="29.75" height="68.25" fill="url(#dots)"/>
<rect x="378.02" y="411.00" width="29.75" height="60.25" fill="url(#dots)"/>
<g fill="#fff" fill-opacity="0.5" stroke="#1e1e1e" stroke-width="0.82">
<circle cx="302.75" cy="406.00" r="2.35"/>
<circle cx="302.75" cy="411.00" r="2.35"/>
<circle cx="302.75" cy="421.00" r="2.35"/>
<circle cx="302.75" cy="431.00" r="2.35"/>
<circle cx="297.50" cy="441.00" r="2.35"/>
<circle cx="307.75" cy="441.00" r="2.35"/>
<circle cx="302.75" cy="471.25" r="2.35"/>
<circle cx="392.75" cy="316.25" r="2.35"/>
<circle cx="392.75" cy="350.75" r="2.35"/>
<circle cx="392.75" cy="355.75" r="2.35"/>
<circle cx="392.75" cy="362.00" r="2.35"/>
<circle cx="388.75" cy="406.00" r="2.35"/>
<circle cx="396.75" cy="406.00" r="2.35"/>
<circle cx="392.75" cy="411.00" r="2.35"/>
<circle cx="388.75" cy="416.50" r="2.35"/>
<circle cx="396.75" cy="416.50" r="2.35"/>
<circle cx="392.75" cy="421.00" r="2.35"/>
<circle cx="380.00" cy="471.25" r="2.35"/>
<circle cx="388.50" cy="471.25" r="2.35"/>
<circle cx="396.75" cy="471.25" r="2.35"/>
<circle cx="405.25" cy="471.25" r="2.35"/>
<circle cx="347.75" cy="296.25" r="2.35"/>
<circle cx="347.75" cy="301.25" r="2.35"/>
<circle cx="347.75" cy="316.25" r="2.35"/>
<circle cx="347.75" cy="331.25" r="2.35"/>
<circle cx="347.75" cy="356.20" r="2.35"/>
<circle cx="343.40" cy="366.10" r="2.35"/>
<circle cx="347.75" cy="366.10" r="2.35"/>
<circle cx="351.70" cy="366.10" r="2.35"/>
<circle cx="347.75" cy="376.30" r="2.35"/>
<circle cx="347.75" cy="381.00" r="2.35"/>
<circle cx="343.40" cy="386.30" r="2.35"/>
<circle cx="347.75" cy="386.30" r="2.35"/>
<circle cx="351.70" cy="386.30" r="2.35"/>
<circle cx="345.50" cy="391.50" r="2.35"/>
<circle cx="349.60" cy="391.50" r="2.35"/>
<circle cx="347.75" cy="396.50" r="2.35"/>
<circle cx="335.10" cy="400.80" r="2.35"/>
<circle cx="355.80" cy="401.40" r="2.35"/>
<circle cx="360.10" cy="400.60" r="2.35"/>
<circle cx="339.10" cy="406.40" r="2.35"/>
<circle cx="343.40" cy="406.40" r="2.35"/>
<circle cx="347.75" cy="406.40" r="2.35"/>
<circle cx="351.70" cy="406.40" r="2.35"/>
<circle cx="345.50" cy="411.00" r="2.35"/>
<circle cx="349.60" cy="411.00" r="2.35"/>
<circle cx="341.30" cy="416.30" r="2.35"/>
<circle cx="345.50" cy="416.30" r="2.35"/>
<circle cx="349.60" cy="416.30" r="2.35"/>
<circle cx="353.90" cy="416.30" r="2.35"/>
<circle cx="341.30" cy="421.30" r="2.35"/>
<circle cx="345.50" cy="421.30" r="2.35"/>
<circle cx="349.60" cy="421.30" r="2.35"/>
<circle cx="353.90" cy="421.30" r="2.35"/>
<circle cx="345.50" cy="426.20" r="2.35"/>
<circle cx="349.60" cy="426.20" r="2.35"/>
<circle cx="341.30" cy="436.20" r="2.35"/>
<circle cx="345.50" cy="436.20" r="2.35"/>
<circle cx="349.60" cy="436.20" r="2.35"/>
<circle cx="353.90" cy="436.20" r="2.35"/>
<circle cx="347.75" cy="451.40" r="2.35"/>
<circle cx="347.75" cy="456.40" r="2.35"/>
<circle cx="343.40" cy="471.25" r="2.35"/>
<circle cx="347.75" cy="471.25" r="2.35"/>
<circle cx="351.70" cy="471.25" r="2.35"/>
</g>
<rect x="288.00" y="432.25" width="29.50" height="39.00" fill="none" stroke="#1c1c1c" stroke-width="1.15"/>
<rect x="332.73" y="403.00" width="29.75" height="68.25" fill="none" stroke="#1c1c1c" stroke-width="1.15"/>
<rect x="378.02" y="411.00" width="29.75" height="60.25" fill="none" stroke="#1c1c1c" stroke-width="1.15"/>
<line x1="302.75" y1="410.00" x2="302.75" y2="454.00" stroke="#111" stroke-width="1.65" stroke-linecap="butt"/>
<line x1="294.50" y1="410.00" x2="311.00" y2="410.00" stroke="#111" stroke-width="1.7" stroke-linecap="butt"/>
<line x1="294.50" y1="454.00" x2="311.00" y2="454.00" stroke="#111" stroke-width="1.7" stroke-linecap="butt"/>
<line x1="347.75" y1="362.00" x2="347.75" y2="443.00" stroke="#111" stroke-width="1.65" stroke-linecap="butt"/>
<line x1="339.50" y1="362.00" x2="356.00" y2="362.00" stroke="#111" stroke-width="1.7" stroke-linecap="butt"/>
<line x1="339.50" y1="443.00" x2="356.00" y2="443.00" stroke="#111" stroke-width="1.7" stroke-linecap="butt"/>
<line x1="392.75" y1="360.25" x2="392.75" y2="460.50" stroke="#111" stroke-width="1.65" stroke-linecap="butt"/>
<line x1="384.50" y1="360.25" x2="401.00" y2="360.25" stroke="#111" stroke-width="1.7" stroke-linecap="butt"/>
<line x1="384.50" y1="460.50" x2="401.00" y2="460.50" stroke="#111" stroke-width="1.7" stroke-linecap="butt"/>
<line x1="272.40" y1="270.60" x2="272.40" y2="471.90" stroke="#1c1c1c" stroke-width="1.3" stroke-linecap="butt"/>
<line x1="267.80" y1="271.25" x2="272.40" y2="271.25" stroke="#1c1c1c" stroke-width="1.1" stroke-linecap="butt"/>
<text x="267.30" y="274.95" font-size="11.4" text-anchor="end" fill="#0a0a0a" stroke="#0a0a0a" stroke-width="0.15">50</text>
<line x1="267.80" y1="311.25" x2="272.40" y2="311.25" stroke="#1c1c1c" stroke-width="1.1" stroke-linecap="butt"/>
<text x="267.30" y="314.95" font-size="11.4" text-anchor="end" fill="#0a0a0a" stroke="#0a0a0a" stroke-width="0.15">40</text>
<line x1="267.80" y1="351.25" x2="272.40" y2="351.25" stroke="#1c1c1c" stroke-width="1.1" stroke-linecap="butt"/>
<text x="267.30" y="354.95" font-size="11.4" text-anchor="end" fill="#0a0a0a" stroke="#0a0a0a" stroke-width="0.15">30</text>
<line x1="267.80" y1="391.25" x2="272.40" y2="391.25" stroke="#1c1c1c" stroke-width="1.1" stroke-linecap="butt"/>
<text x="267.30" y="394.95" font-size="11.4" text-anchor="end" fill="#0a0a0a" stroke="#0a0a0a" stroke-width="0.15">20</text>
<line x1="267.80" y1="431.25" x2="272.40" y2="431.25" stroke="#1c1c1c" stroke-width="1.1" stroke-linecap="butt"/>
<text x="267.30" y="434.95" font-size="11.4" text-anchor="end" fill="#0a0a0a" stroke="#0a0a0a" stroke-width="0.15">10</text>
<line x1="267.80" y1="471.25" x2="272.40" y2="471.25" stroke="#1c1c1c" stroke-width="1.1" stroke-linecap="butt"/>
<text x="267.30" y="474.95" font-size="11.4" text-anchor="end" fill="#0a0a0a" stroke="#0a0a0a" stroke-width="0.15">0</text>
<line x1="269.60" y1="291.25" x2="272.40" y2="291.25" stroke="#1c1c1c" stroke-width="1.1" stroke-linecap="butt"/>
<line x1="269.60" y1="331.25" x2="272.40" y2="331.25" stroke="#1c1c1c" stroke-width="1.1" stroke-linecap="butt"/>
<line x1="269.60" y1="371.25" x2="272.40" y2="371.25" stroke="#1c1c1c" stroke-width="1.1" stroke-linecap="butt"/>
<line x1="269.60" y1="411.25" x2="272.40" y2="411.25" stroke="#1c1c1c" stroke-width="1.1" stroke-linecap="butt"/>
<line x1="269.60" y1="451.25" x2="272.40" y2="451.25" stroke="#1c1c1c" stroke-width="1.1" stroke-linecap="butt"/>
<line x1="271.75" y1="471.25" x2="422.50" y2="471.25" stroke="#1c1c1c" stroke-width="1.3" stroke-linecap="butt"/>
<line x1="302.75" y1="471.25" x2="302.75" y2="475.65" stroke="#1c1c1c" stroke-width="1.2" stroke-linecap="butt"/>
<text x="302.75" y="485.50" font-size="11.4" text-anchor="middle" fill="#0a0a0a" stroke="#0a0a0a" stroke-width="0.15">I</text>
<line x1="347.75" y1="471.25" x2="347.75" y2="475.65" stroke="#1c1c1c" stroke-width="1.2" stroke-linecap="butt"/>
<text x="347.75" y="485.50" font-size="11.4" text-anchor="middle" fill="#0a0a0a" stroke="#0a0a0a" stroke-width="0.15">II</text>
<line x1="392.75" y1="471.25" x2="392.75" y2="475.65" stroke="#1c1c1c" stroke-width="1.2" stroke-linecap="butt"/>
<text x="392.75" y="485.50" font-size="11.4" text-anchor="middle" fill="#0a0a0a" stroke="#0a0a0a" stroke-width="0.15">III</text>
<text x="347.50" y="500.50" font-size="11.4" text-anchor="middle" fill="#0a0a0a" stroke="#0a0a0a" stroke-width="0.15">ChOLE stage</text>
<text x="247.50" y="370.05" font-size="11.4" text-anchor="middle" transform="rotate(-90 247.50 370.05)" style="letter-spacing:-0.28px" fill="#0a0a0a" stroke="#0a0a0a" stroke-width="0.15">Postoperative ABG (dB)</text>
<text x="223.80" y="268.75" font-size="19.5" text-anchor="start" font-weight="bold" fill="#000" stroke="#000" stroke-width="0.15">E</text>
<rect x="517.50" y="406.50" width="29.50" height="7.60" fill="url(#dots)"/>
<rect x="562.35" y="403.50" width="29.50" height="10.60" fill="url(#dots)"/>
<rect x="607.50" y="379.50" width="29.50" height="34.60" fill="url(#dots)"/>
<g fill="#fff" fill-opacity="0.5" stroke="#1e1e1e" stroke-width="0.82">
<circle cx="532.25" cy="364.00" r="2.35"/>
<circle cx="527.00" cy="399.75" r="2.35"/>
<circle cx="537.25" cy="403.50" r="2.35"/>
<circle cx="532.25" cy="410.25" r="2.35"/>
<circle cx="532.25" cy="417.75" r="2.35"/>
<circle cx="532.25" cy="443.00" r="2.35"/>
<circle cx="622.25" cy="300.00" r="2.35"/>
<circle cx="622.25" cy="317.75" r="2.35"/>
<circle cx="617.25" cy="357.00" r="2.35"/>
<circle cx="627.25" cy="357.00" r="2.35"/>
<circle cx="617.25" cy="367.50" r="2.35"/>
<circle cx="627.25" cy="367.50" r="2.35"/>
<circle cx="612.00" cy="374.50" r="2.35"/>
<circle cx="622.25" cy="378.25" r="2.35"/>
<circle cx="622.25" cy="385.50" r="2.35"/>
<circle cx="622.25" cy="400.00" r="2.35"/>
<circle cx="612.00" cy="414.00" r="2.35"/>
<circle cx="622.25" cy="414.00" r="2.35"/>
<circle cx="632.00" cy="414.00" r="2.35"/>
<circle cx="622.25" cy="460.50" r="2.35"/>
<circle cx="577.00" cy="289.25" r="2.35"/>
<circle cx="581.50" cy="350.00" r="2.35"/>
<circle cx="577.00" cy="353.25" r="2.35"/>
<circle cx="577.00" cy="360.50" r="2.35"/>
<circle cx="577.00" cy="370.00" r="2.35"/>
<circle cx="564.75" cy="378.25" r="2.35"/>
<circle cx="569.00" cy="378.25" r="2.35"/>
<circle cx="581.50" cy="378.25" r="2.35"/>
<circle cx="585.50" cy="378.25" r="2.35"/>
<circle cx="589.75" cy="378.25" r="2.35"/>
<circle cx="573.00" cy="381.25" r="2.35"/>
<circle cx="577.00" cy="381.25" r="2.35"/>
<circle cx="577.00" cy="385.50" r="2.35"/>
<circle cx="581.50" cy="385.50" r="2.35"/>
<circle cx="581.50" cy="396.25" r="2.35"/>
<circle cx="589.75" cy="399.50" r="2.35"/>
<circle cx="569.00" cy="403.25" r="2.35"/>
<circle cx="573.00" cy="403.25" r="2.35"/>
<circle cx="577.00" cy="403.25" r="2.35"/>
<circle cx="581.50" cy="403.25" r="2.35"/>
<circle cx="585.50" cy="403.25" r="2.35"/>
<circle cx="573.00" cy="410.50" r="2.35"/>
<circle cx="577.00" cy="410.50" r="2.35"/>
<circle cx="581.50" cy="410.50" r="2.35"/>
<circle cx="585.50" cy="410.50" r="2.35"/>
<circle cx="564.75" cy="414.00" r="2.35"/>
<circle cx="569.00" cy="414.00" r="2.35"/>
<circle cx="573.00" cy="414.00" r="2.35"/>
<circle cx="577.00" cy="414.00" r="2.35"/>
<circle cx="581.50" cy="414.00" r="2.35"/>
<circle cx="585.50" cy="414.00" r="2.35"/>
<circle cx="589.75" cy="414.00" r="2.35"/>
<circle cx="569.00" cy="417.50" r="2.35"/>
<circle cx="573.00" cy="417.50" r="2.35"/>
<circle cx="577.00" cy="417.50" r="2.35"/>
<circle cx="581.50" cy="417.50" r="2.35"/>
<circle cx="585.50" cy="417.50" r="2.35"/>
<circle cx="569.00" cy="421.00" r="2.35"/>
<circle cx="573.00" cy="421.00" r="2.35"/>
<circle cx="577.00" cy="421.00" r="2.35"/>
<circle cx="581.50" cy="421.00" r="2.35"/>
<circle cx="573.00" cy="424.50" r="2.35"/>
<circle cx="577.00" cy="431.75" r="2.35"/>
<circle cx="571.00" cy="439.00" r="2.35"/>
<circle cx="575.25" cy="439.00" r="2.35"/>
<circle cx="579.25" cy="439.00" r="2.35"/>
<circle cx="583.50" cy="439.00" r="2.35"/>
<circle cx="577.00" cy="450.00" r="2.35"/>
<circle cx="575.00" cy="460.50" r="2.35"/>
<circle cx="579.25" cy="460.50" r="2.35"/>
</g>
<rect x="517.50" y="406.50" width="29.50" height="7.60" fill="none" stroke="#1c1c1c" stroke-width="1.15"/>
<rect x="562.35" y="403.50" width="29.50" height="10.60" fill="none" stroke="#1c1c1c" stroke-width="1.15"/>
<rect x="607.50" y="379.50" width="29.50" height="34.60" fill="none" stroke="#1c1c1c" stroke-width="1.15"/>
<line x1="532.25" y1="380.75" x2="532.25" y2="432.00" stroke="#111" stroke-width="1.65" stroke-linecap="butt"/>
<line x1="524.00" y1="380.75" x2="540.50" y2="380.75" stroke="#111" stroke-width="1.7" stroke-linecap="butt"/>
<line x1="524.00" y1="432.00" x2="540.50" y2="432.00" stroke="#111" stroke-width="1.7" stroke-linecap="butt"/>
<line x1="577.25" y1="370.75" x2="577.25" y2="435.75" stroke="#111" stroke-width="1.65" stroke-linecap="butt"/>
<line x1="569.00" y1="370.75" x2="585.50" y2="370.75" stroke="#111" stroke-width="1.7" stroke-linecap="butt"/>
<line x1="569.00" y1="435.75" x2="585.50" y2="435.75" stroke="#111" stroke-width="1.7" stroke-linecap="butt"/>
<line x1="622.25" y1="338.00" x2="622.25" y2="420.50" stroke="#111" stroke-width="1.65" stroke-linecap="butt"/>
<line x1="614.00" y1="338.00" x2="630.50" y2="338.00" stroke="#111" stroke-width="1.7" stroke-linecap="butt"/>
<line x1="614.00" y1="420.50" x2="630.50" y2="420.50" stroke="#111" stroke-width="1.7" stroke-linecap="butt"/>
<line x1="502.25" y1="270.60" x2="502.25" y2="471.90" stroke="#1c1c1c" stroke-width="1.3" stroke-linecap="butt"/>
<line x1="497.65" y1="271.25" x2="502.25" y2="271.25" stroke="#1c1c1c" stroke-width="1.1" stroke-linecap="butt"/>
<text x="497.15" y="274.95" font-size="11.4" text-anchor="end" fill="#0a0a0a" stroke="#0a0a0a" stroke-width="0.15">50</text>
<line x1="497.65" y1="299.82" x2="502.25" y2="299.82" stroke="#1c1c1c" stroke-width="1.1" stroke-linecap="butt"/>
<text x="497.15" y="303.52" font-size="11.4" text-anchor="end" fill="#0a0a0a" stroke="#0a0a0a" stroke-width="0.15">40</text>
<line x1="497.65" y1="328.39" x2="502.25" y2="328.39" stroke="#1c1c1c" stroke-width="1.1" stroke-linecap="butt"/>
<text x="497.15" y="332.09" font-size="11.4" text-anchor="end" fill="#0a0a0a" stroke="#0a0a0a" stroke-width="0.15">30</text>
<line x1="497.65" y1="356.96" x2="502.25" y2="356.96" stroke="#1c1c1c" stroke-width="1.1" stroke-linecap="butt"/>
<text x="497.15" y="360.66" font-size="11.4" text-anchor="end" fill="#0a0a0a" stroke="#0a0a0a" stroke-width="0.15">20</text>
<line x1="497.65" y1="385.53" x2="502.25" y2="385.53" stroke="#1c1c1c" stroke-width="1.1" stroke-linecap="butt"/>
<text x="497.15" y="389.23" font-size="11.4" text-anchor="end" fill="#0a0a0a" stroke="#0a0a0a" stroke-width="0.15">10</text>
<line x1="497.65" y1="414.10" x2="502.25" y2="414.10" stroke="#1c1c1c" stroke-width="1.1" stroke-linecap="butt"/>
<text x="497.15" y="417.80" font-size="11.4" text-anchor="end" fill="#0a0a0a" stroke="#0a0a0a" stroke-width="0.15">0</text>
<line x1="497.65" y1="442.67" x2="502.25" y2="442.67" stroke="#1c1c1c" stroke-width="1.1" stroke-linecap="butt"/>
<text x="497.15" y="446.37" font-size="11.4" text-anchor="end" fill="#0a0a0a" stroke="#0a0a0a" stroke-width="0.15">-10</text>
<line x1="497.65" y1="471.24" x2="502.25" y2="471.24" stroke="#1c1c1c" stroke-width="1.1" stroke-linecap="butt"/>
<text x="497.15" y="474.94" font-size="11.4" text-anchor="end" fill="#0a0a0a" stroke="#0a0a0a" stroke-width="0.15">-20</text>
<line x1="501.60" y1="414.25" x2="652.00" y2="414.25" stroke="#1c1c1c" stroke-width="1.45" stroke-linecap="butt"/>
<line x1="501.60" y1="471.25" x2="652.00" y2="471.25" stroke="#1c1c1c" stroke-width="1.3" stroke-linecap="butt"/>
<line x1="532.25" y1="471.25" x2="532.25" y2="475.65" stroke="#1c1c1c" stroke-width="1.2" stroke-linecap="butt"/>
<text x="532.25" y="485.50" font-size="11.4" text-anchor="middle" fill="#0a0a0a" stroke="#0a0a0a" stroke-width="0.15">I</text>
<line x1="577.25" y1="471.25" x2="577.25" y2="475.65" stroke="#1c1c1c" stroke-width="1.2" stroke-linecap="butt"/>
<text x="577.25" y="485.50" font-size="11.4" text-anchor="middle" fill="#0a0a0a" stroke="#0a0a0a" stroke-width="0.15">II</text>
<line x1="622.25" y1="471.25" x2="622.25" y2="475.65" stroke="#1c1c1c" stroke-width="1.2" stroke-linecap="butt"/>
<text x="622.25" y="485.50" font-size="11.4" text-anchor="middle" fill="#0a0a0a" stroke="#0a0a0a" stroke-width="0.15">III</text>
<text x="577.00" y="500.50" font-size="11.4" text-anchor="middle" fill="#0a0a0a" stroke="#0a0a0a" stroke-width="0.15">ChOLE stage</text>
<text x="472.70" y="370.05" font-size="11.4" text-anchor="middle" transform="rotate(-90 472.70 370.05)" fill="#0a0a0a" stroke="#0a0a0a" stroke-width="0.15">ABG shift (dB)</text>
<text x="454.80" y="268.75" font-size="19.5" text-anchor="start" font-weight="bold" fill="#000" stroke="#000" stroke-width="0.15">F</text>
<rect x="55.78" y="714.30" width="18.25" height="54.00" fill="url(#dots)"/>
<rect x="83.78" y="694.30" width="18.25" height="74.00" fill="url(#dots)"/>
<rect x="111.50" y="692.30" width="18.50" height="76.00" fill="url(#dots)"/>
<rect x="140.00" y="671.05" width="18.00" height="97.25" fill="url(#dots)"/>
<rect x="168.30" y="612.55" width="18.00" height="155.75" fill="url(#dots)"/>
<g fill="#fff" fill-opacity="0.5" stroke="#1e1e1e" stroke-width="0.82">
<circle cx="65.00" cy="685.30" r="2.35"/>
<circle cx="58.00" cy="691.30" r="2.35"/>
<circle cx="71.75" cy="695.55" r="2.35"/>
<circle cx="65.00" cy="722.80" r="2.35"/>
<circle cx="65.00" cy="733.05" r="2.35"/>
<circle cx="65.00" cy="754.05" r="2.35"/>
<circle cx="149.25" cy="631.05" r="2.35"/>
<circle cx="149.25" cy="653.55" r="2.35"/>
<circle cx="149.25" cy="666.05" r="2.35"/>
<circle cx="149.25" cy="672.80" r="2.35"/>
<circle cx="142.50" cy="691.30" r="2.35"/>
<circle cx="156.00" cy="695.55" r="2.35"/>
<circle cx="149.25" cy="716.55" r="2.35"/>
<circle cx="170.25" cy="568.30" r="2.35"/>
<circle cx="184.00" cy="568.30" r="2.35"/>
<circle cx="177.00" cy="697.80" r="2.35"/>
<circle cx="121.00" cy="651.75" r="2.35"/>
<circle cx="123.40" cy="661.95" r="2.35"/>
<circle cx="118.70" cy="664.35" r="2.35"/>
<circle cx="123.40" cy="668.35" r="2.35"/>
<circle cx="113.70" cy="673.15" r="2.35"/>
<circle cx="118.40" cy="673.15" r="2.35"/>
<circle cx="128.00" cy="674.35" r="2.35"/>
<circle cx="118.70" cy="677.15" r="2.35"/>
<circle cx="121.00" cy="683.55" r="2.35"/>
<circle cx="118.70" cy="689.65" r="2.35"/>
<circle cx="123.40" cy="691.05" r="2.35"/>
<circle cx="128.00" cy="691.05" r="2.35"/>
<circle cx="114.40" cy="697.15" r="2.35"/>
<circle cx="118.70" cy="697.15" r="2.35"/>
<circle cx="123.40" cy="698.65" r="2.35"/>
<circle cx="127.50" cy="697.55" r="2.35"/>
<circle cx="114.40" cy="703.65" r="2.35"/>
<circle cx="118.70" cy="703.65" r="2.35"/>
<circle cx="123.40" cy="703.65" r="2.35"/>
<circle cx="128.00" cy="703.65" r="2.35"/>
<circle cx="114.40" cy="710.05" r="2.35"/>
<circle cx="123.40" cy="710.05" r="2.35"/>
<circle cx="128.00" cy="710.05" r="2.35"/>
<circle cx="118.70" cy="711.55" r="2.35"/>
<circle cx="121.00" cy="718.65" r="2.35"/>
<circle cx="121.00" cy="743.35" r="2.35"/>
<circle cx="92.75" cy="568.30" r="2.35"/>
<circle cx="90.90" cy="627.15" r="2.35"/>
<circle cx="93.00" cy="625.05" r="2.35"/>
<circle cx="95.10" cy="625.05" r="2.35"/>
<circle cx="93.00" cy="630.75" r="2.35"/>
<circle cx="93.00" cy="639.05" r="2.35"/>
<circle cx="88.60" cy="654.05" r="2.35"/>
<circle cx="91.50" cy="654.55" r="2.35"/>
<circle cx="94.50" cy="654.55" r="2.35"/>
<circle cx="97.30" cy="654.05" r="2.35"/>
<circle cx="93.00" cy="668.65" r="2.35"/>
<circle cx="93.00" cy="675.05" r="2.35"/>
<circle cx="90.90" cy="678.95" r="2.35"/>
<circle cx="95.10" cy="678.95" r="2.35"/>
<circle cx="93.00" cy="682.95" r="2.35"/>
<circle cx="97.30" cy="691.05" r="2.35"/>
<circle cx="86.50" cy="696.55" r="2.35"/>
<circle cx="90.80" cy="696.55" r="2.35"/>
<circle cx="95.10" cy="696.55" r="2.35"/>
<circle cx="99.40" cy="696.55" r="2.35"/>
<circle cx="88.60" cy="700.35" r="2.35"/>
<circle cx="92.90" cy="700.35" r="2.35"/>
<circle cx="97.20" cy="700.35" r="2.35"/>
<circle cx="86.50" cy="704.15" r="2.35"/>
<circle cx="90.80" cy="704.15" r="2.35"/>
<circle cx="95.10" cy="704.15" r="2.35"/>
<circle cx="99.40" cy="704.15" r="2.35"/>
<circle cx="88.60" cy="707.95" r="2.35"/>
<circle cx="92.90" cy="707.95" r="2.35"/>
<circle cx="97.20" cy="707.95" r="2.35"/>
<circle cx="86.50" cy="711.75" r="2.35"/>
<circle cx="90.80" cy="711.75" r="2.35"/>
<circle cx="95.10" cy="711.75" r="2.35"/>
<circle cx="99.40" cy="711.75" r="2.35"/>
<circle cx="88.60" cy="715.55" r="2.35"/>
<circle cx="92.90" cy="715.55" r="2.35"/>
<circle cx="97.20" cy="715.55" r="2.35"/>
<circle cx="86.50" cy="719.35" r="2.35"/>
<circle cx="90.80" cy="719.35" r="2.35"/>
<circle cx="95.10" cy="719.35" r="2.35"/>
<circle cx="99.40" cy="719.35" r="2.35"/>
<circle cx="88.60" cy="723.15" r="2.35"/>
<circle cx="92.90" cy="723.15" r="2.35"/>
<circle cx="97.20" cy="723.15" r="2.35"/>
<circle cx="86.50" cy="726.95" r="2.35"/>
<circle cx="90.80" cy="726.95" r="2.35"/>
<circle cx="95.10" cy="726.95" r="2.35"/>
<circle cx="99.40" cy="726.95" r="2.35"/>
<circle cx="91.00" cy="730.75" r="2.35"/>
<circle cx="95.30" cy="730.75" r="2.35"/>
<circle cx="89.00" cy="734.05" r="2.35"/>
<circle cx="93.00" cy="734.05" r="2.35"/>
<circle cx="97.00" cy="734.05" r="2.35"/>
<circle cx="93.00" cy="742.45" r="2.35"/>
<circle cx="93.00" cy="753.95" r="2.35"/>
</g>
<rect x="55.78" y="714.30" width="18.25" height="54.00" fill="none" stroke="#1c1c1c" stroke-width="1.15"/>
<rect x="83.78" y="694.30" width="18.25" height="74.00" fill="none" stroke="#1c1c1c" stroke-width="1.15"/>
<rect x="111.50" y="692.30" width="18.50" height="76.00" fill="none" stroke="#1c1c1c" stroke-width="1.15"/>
<rect x="140.00" y="671.05" width="18.00" height="97.25" fill="none" stroke="#1c1c1c" stroke-width="1.15"/>
<rect x="168.30" y="612.55" width="18.00" height="155.75" fill="none" stroke="#1c1c1c" stroke-width="1.15"/>
<line x1="65.00" y1="686.55" x2="65.00" y2="741.05" stroke="#111" stroke-width="1.65" stroke-linecap="butt"/>
<line x1="59.38" y1="686.55" x2="70.62" y2="686.55" stroke="#111" stroke-width="1.7" stroke-linecap="butt"/>
<line x1="59.38" y1="741.05" x2="70.62" y2="741.05" stroke="#111" stroke-width="1.7" stroke-linecap="butt"/>
<line x1="93.00" y1="655.55" x2="93.00" y2="732.30" stroke="#111" stroke-width="1.65" stroke-linecap="butt"/>
<line x1="87.38" y1="655.55" x2="98.62" y2="655.55" stroke="#111" stroke-width="1.7" stroke-linecap="butt"/>
<line x1="87.38" y1="732.30" x2="98.62" y2="732.30" stroke="#111" stroke-width="1.7" stroke-linecap="butt"/>
<line x1="120.75" y1="670.30" x2="120.75" y2="713.55" stroke="#111" stroke-width="1.65" stroke-linecap="butt"/>
<line x1="115.12" y1="670.30" x2="126.38" y2="670.30" stroke="#111" stroke-width="1.7" stroke-linecap="butt"/>
<line x1="115.12" y1="713.55" x2="126.38" y2="713.55" stroke="#111" stroke-width="1.7" stroke-linecap="butt"/>
<line x1="149.25" y1="641.05" x2="149.25" y2="700.30" stroke="#111" stroke-width="1.65" stroke-linecap="butt"/>
<line x1="143.62" y1="641.05" x2="154.88" y2="641.05" stroke="#111" stroke-width="1.7" stroke-linecap="butt"/>
<line x1="143.62" y1="700.30" x2="154.88" y2="700.30" stroke="#111" stroke-width="1.7" stroke-linecap="butt"/>
<line x1="177.25" y1="567.55" x2="177.25" y2="686.05" stroke="#111" stroke-width="1.65" stroke-linecap="butt"/>
<line x1="171.62" y1="686.05" x2="182.88" y2="686.05" stroke="#111" stroke-width="1.7" stroke-linecap="butt"/>
<line x1="46.10" y1="567.65" x2="46.10" y2="768.95" stroke="#1c1c1c" stroke-width="1.3" stroke-linecap="butt"/>
<line x1="41.50" y1="568.30" x2="46.10" y2="568.30" stroke="#1c1c1c" stroke-width="1.1" stroke-linecap="butt"/>
<text x="41.00" y="572.00" font-size="11.4" text-anchor="end" fill="#0a0a0a" stroke="#0a0a0a" stroke-width="0.15">120</text>
<line x1="41.50" y1="601.63" x2="46.10" y2="601.63" stroke="#1c1c1c" stroke-width="1.1" stroke-linecap="butt"/>
<text x="41.00" y="605.33" font-size="11.4" text-anchor="end" fill="#0a0a0a" stroke="#0a0a0a" stroke-width="0.15">100</text>
<line x1="41.50" y1="634.96" x2="46.10" y2="634.96" stroke="#1c1c1c" stroke-width="1.1" stroke-linecap="butt"/>
<text x="41.00" y="638.66" font-size="11.4" text-anchor="end" fill="#0a0a0a" stroke="#0a0a0a" stroke-width="0.15">80</text>
<line x1="41.50" y1="668.30" x2="46.10" y2="668.30" stroke="#1c1c1c" stroke-width="1.1" stroke-linecap="butt"/>
<text x="41.00" y="672.00" font-size="11.4" text-anchor="end" fill="#0a0a0a" stroke="#0a0a0a" stroke-width="0.15">60</text>
<line x1="41.50" y1="701.63" x2="46.10" y2="701.63" stroke="#1c1c1c" stroke-width="1.1" stroke-linecap="butt"/>
<text x="41.00" y="705.33" font-size="11.4" text-anchor="end" fill="#0a0a0a" stroke="#0a0a0a" stroke-width="0.15">40</text>
<line x1="41.50" y1="734.97" x2="46.10" y2="734.97" stroke="#1c1c1c" stroke-width="1.1" stroke-linecap="butt"/>
<text x="41.00" y="738.67" font-size="11.4" text-anchor="end" fill="#0a0a0a" stroke="#0a0a0a" stroke-width="0.15">20</text>
<line x1="41.50" y1="768.30" x2="46.10" y2="768.30" stroke="#1c1c1c" stroke-width="1.1" stroke-linecap="butt"/>
<text x="41.00" y="772.00" font-size="11.4" text-anchor="end" fill="#0a0a0a" stroke="#0a0a0a" stroke-width="0.15">0</text>
<line x1="43.30" y1="584.96" x2="46.10" y2="584.96" stroke="#1c1c1c" stroke-width="1.1" stroke-linecap="butt"/>
<line x1="43.30" y1="618.30" x2="46.10" y2="618.30" stroke="#1c1c1c" stroke-width="1.1" stroke-linecap="butt"/>
<line x1="43.30" y1="651.63" x2="46.10" y2="651.63" stroke="#1c1c1c" stroke-width="1.1" stroke-linecap="butt"/>
<line x1="43.30" y1="684.96" x2="46.10" y2="684.96" stroke="#1c1c1c" stroke-width="1.1" stroke-linecap="butt"/>
<line x1="43.30" y1="718.30" x2="46.10" y2="718.30" stroke="#1c1c1c" stroke-width="1.1" stroke-linecap="butt"/>
<line x1="43.30" y1="751.63" x2="46.10" y2="751.63" stroke="#1c1c1c" stroke-width="1.1" stroke-linecap="butt"/>
<line x1="45.45" y1="768.30" x2="196.00" y2="768.30" stroke="#1c1c1c" stroke-width="1.3" stroke-linecap="butt"/>
<line x1="65.00" y1="768.30" x2="65.00" y2="772.50" stroke="#1c1c1c" stroke-width="1.2" stroke-linecap="butt"/>
<text x="65.00" y="782.50" font-size="11.4" text-anchor="middle" fill="#0a0a0a" stroke="#0a0a0a" stroke-width="0.15">0</text>
<line x1="93.00" y1="768.30" x2="93.00" y2="772.50" stroke="#1c1c1c" stroke-width="1.2" stroke-linecap="butt"/>
<text x="93.00" y="782.50" font-size="11.4" text-anchor="middle" fill="#0a0a0a" stroke="#0a0a0a" stroke-width="0.15">1</text>
<line x1="121.00" y1="768.30" x2="121.00" y2="772.50" stroke="#1c1c1c" stroke-width="1.2" stroke-linecap="butt"/>
<text x="121.00" y="782.50" font-size="11.4" text-anchor="middle" fill="#0a0a0a" stroke="#0a0a0a" stroke-width="0.15">2</text>
<line x1="149.00" y1="768.30" x2="149.00" y2="772.50" stroke="#1c1c1c" stroke-width="1.2" stroke-linecap="butt"/>
<text x="149.00" y="782.50" font-size="11.4" text-anchor="middle" fill="#0a0a0a" stroke="#0a0a0a" stroke-width="0.15">3</text>
<line x1="177.00" y1="768.30" x2="177.00" y2="772.50" stroke="#1c1c1c" stroke-width="1.2" stroke-linecap="butt"/>
<text x="177.00" y="782.50" font-size="11.4" text-anchor="middle" fill="#0a0a0a" stroke="#0a0a0a" stroke-width="0.15">4</text>
<text x="121.50" y="798.00" font-size="11.4" text-anchor="middle" fill="#0a0a0a" stroke="#0a0a0a" stroke-width="0.15">Ossicular chain status</text>
<text x="14.00" y="667.05" font-size="11.4" text-anchor="middle" transform="rotate(-90 14.00 667.05)" fill="#0a0a0a" stroke="#0a0a0a" stroke-width="0.15">Preoperative AC (dB)</text>
<text x="0.00" y="521.25" font-size="19.5" text-anchor="start" font-weight="bold" fill="#000" stroke="#000" stroke-width="0.15">G</text>
<path d="M66.25 532.00V526.00H177.25V532.00" fill="none" stroke="#1c1c1c" stroke-width="1.25"/>
<text x="119.00" y="522.00" font-size="11.4" text-anchor="middle" fill="#0a0a0a" stroke="#0a0a0a" stroke-width="0.15">p = 0.0006</text>
<path d="M92.75 549.00V543.00H177.25V549.00" fill="none" stroke="#1c1c1c" stroke-width="1.25"/>
<text x="134.50" y="538.75" font-size="11.4" text-anchor="middle" fill="#0a0a0a" stroke="#0a0a0a" stroke-width="0.15">p = 0.001</text>
<path d="M119.90 565.50V559.50H177.25V565.50" fill="none" stroke="#1c1c1c" stroke-width="1.25"/>
<text x="149.00" y="555.50" font-size="11.4" text-anchor="middle" fill="#0a0a0a" stroke="#0a0a0a" stroke-width="0.15">p = 0.002</text>
<rect x="282.15" y="735.30" width="18.50" height="33.00" fill="url(#dots)"/>
<rect x="310.27" y="700.30" width="18.25" height="68.00" fill="url(#dots)"/>
<rect x="338.27" y="697.30" width="18.25" height="71.00" fill="url(#dots)"/>
<rect x="366.27" y="684.30" width="18.25" height="84.00" fill="url(#dots)"/>
<rect x="394.50" y="620.80" width="18.00" height="147.50" fill="url(#dots)"/>
<g fill="#fff" fill-opacity="0.5" stroke="#1e1e1e" stroke-width="0.82">
<circle cx="291.25" cy="726.55" r="2.35"/>
<circle cx="284.50" cy="739.05" r="2.35"/>
<circle cx="297.75" cy="738.05" r="2.35"/>
<circle cx="375.50" cy="656.05" r="2.35"/>
<circle cx="368.75" cy="687.30" r="2.35"/>
<circle cx="382.25" cy="687.30" r="2.35"/>
<circle cx="375.50" cy="689.30" r="2.35"/>
<circle cx="375.50" cy="698.55" r="2.35"/>
<circle cx="396.75" cy="568.30" r="2.35"/>
<circle cx="410.75" cy="568.30" r="2.35"/>
<circle cx="403.75" cy="722.80" r="2.35"/>
<circle cx="347.25" cy="568.30" r="2.35"/>
<circle cx="340.50" cy="647.80" r="2.35"/>
<circle cx="347.25" cy="651.05" r="2.35"/>
<circle cx="347.25" cy="674.80" r="2.35"/>
<circle cx="340.50" cy="679.05" r="2.35"/>
<circle cx="354.25" cy="679.05" r="2.35"/>
<circle cx="340.50" cy="691.55" r="2.35"/>
<circle cx="347.25" cy="693.55" r="2.35"/>
<circle cx="354.25" cy="697.30" r="2.35"/>
<circle cx="340.50" cy="696.55" r="2.35"/>
<circle cx="347.25" cy="699.80" r="2.35"/>
<circle cx="354.25" cy="708.05" r="2.35"/>
<circle cx="347.25" cy="710.30" r="2.35"/>
<circle cx="354.25" cy="722.80" r="2.35"/>
<circle cx="347.25" cy="724.80" r="2.35"/>
<circle cx="344.00" cy="735.30" r="2.35"/>
<circle cx="350.75" cy="735.30" r="2.35"/>
<circle cx="344.00" cy="768.30" r="2.35"/>
<circle cx="350.75" cy="768.30" r="2.35"/>
<circle cx="319.25" cy="587.30" r="2.35"/>
<circle cx="319.25" cy="612.30" r="2.35"/>
<circle cx="319.25" cy="618.30" r="2.35"/>
<circle cx="319.25" cy="624.30" r="2.35"/>
<circle cx="319.30" cy="637.15" r="2.35"/>
<circle cx="319.30" cy="643.65" r="2.35"/>
<circle cx="318.30" cy="660.05" r="2.35"/>
<circle cx="320.70" cy="662.65" r="2.35"/>
<circle cx="319.30" cy="681.05" r="2.35"/>
<circle cx="319.30" cy="703.65" r="2.35"/>
<circle cx="317.10" cy="706.45" r="2.35"/>
<circle cx="321.40" cy="707.95" r="2.35"/>
<circle cx="319.30" cy="711.45" r="2.35"/>
<circle cx="312.90" cy="718.05" r="2.35"/>
<circle cx="315.00" cy="715.55" r="2.35"/>
<circle cx="317.10" cy="716.25" r="2.35"/>
<circle cx="319.30" cy="715.55" r="2.35"/>
<circle cx="321.40" cy="716.25" r="2.35"/>
<circle cx="323.60" cy="716.25" r="2.35"/>
<circle cx="326.10" cy="714.85" r="2.35"/>
<circle cx="319.30" cy="721.45" r="2.35"/>
<circle cx="319.30" cy="724.35" r="2.35"/>
<circle cx="317.10" cy="728.65" r="2.35"/>
<circle cx="321.40" cy="728.65" r="2.35"/>
<circle cx="319.30" cy="730.05" r="2.35"/>
<circle cx="319.30" cy="735.75" r="2.35"/>
<circle cx="317.90" cy="740.75" r="2.35"/>
<circle cx="320.70" cy="740.75" r="2.35"/>
<circle cx="318.60" cy="768.30" r="2.35"/>
<circle cx="320.40" cy="768.30" r="2.35"/>
</g>
<rect x="282.15" y="735.30" width="18.50" height="33.00" fill="none" stroke="#1c1c1c" stroke-width="1.15"/>
<rect x="310.27" y="700.30" width="18.25" height="68.00" fill="none" stroke="#1c1c1c" stroke-width="1.15"/>
<rect x="338.27" y="697.30" width="18.25" height="71.00" fill="none" stroke="#1c1c1c" stroke-width="1.15"/>
<rect x="366.27" y="684.30" width="18.25" height="84.00" fill="none" stroke="#1c1c1c" stroke-width="1.15"/>
<rect x="394.50" y="620.80" width="18.00" height="147.50" fill="none" stroke="#1c1c1c" stroke-width="1.15"/>
<line x1="291.40" y1="728.05" x2="291.40" y2="741.55" stroke="#111" stroke-width="1.65" stroke-linecap="butt"/>
<line x1="285.77" y1="728.05" x2="297.02" y2="728.05" stroke="#111" stroke-width="1.7" stroke-linecap="butt"/>
<line x1="285.77" y1="741.55" x2="297.02" y2="741.55" stroke="#111" stroke-width="1.7" stroke-linecap="butt"/>
<line x1="319.40" y1="654.80" x2="319.40" y2="744.80" stroke="#111" stroke-width="1.65" stroke-linecap="butt"/>
<line x1="313.77" y1="654.80" x2="325.02" y2="654.80" stroke="#111" stroke-width="1.7" stroke-linecap="butt"/>
<line x1="313.77" y1="744.80" x2="325.02" y2="744.80" stroke="#111" stroke-width="1.7" stroke-linecap="butt"/>
<line x1="347.40" y1="652.30" x2="347.40" y2="743.05" stroke="#111" stroke-width="1.65" stroke-linecap="butt"/>
<line x1="341.77" y1="652.30" x2="353.02" y2="652.30" stroke="#111" stroke-width="1.7" stroke-linecap="butt"/>
<line x1="341.77" y1="743.05" x2="353.02" y2="743.05" stroke="#111" stroke-width="1.7" stroke-linecap="butt"/>
<line x1="375.50" y1="667.80" x2="375.50" y2="700.30" stroke="#111" stroke-width="1.65" stroke-linecap="butt"/>
<line x1="369.88" y1="667.80" x2="381.12" y2="667.80" stroke="#111" stroke-width="1.7" stroke-linecap="butt"/>
<line x1="369.88" y1="700.30" x2="381.12" y2="700.30" stroke="#111" stroke-width="1.7" stroke-linecap="butt"/>
<line x1="403.90" y1="567.55" x2="403.90" y2="709.30" stroke="#111" stroke-width="1.65" stroke-linecap="butt"/>
<line x1="398.27" y1="709.30" x2="409.52" y2="709.30" stroke="#111" stroke-width="1.7" stroke-linecap="butt"/>
<line x1="272.40" y1="567.65" x2="272.40" y2="768.95" stroke="#1c1c1c" stroke-width="1.3" stroke-linecap="butt"/>
<line x1="267.80" y1="568.30" x2="272.40" y2="568.30" stroke="#1c1c1c" stroke-width="1.1" stroke-linecap="butt"/>
<text x="267.30" y="572.00" font-size="11.4" text-anchor="end" fill="#0a0a0a" stroke="#0a0a0a" stroke-width="0.15">120</text>
<line x1="267.80" y1="601.63" x2="272.40" y2="601.63" stroke="#1c1c1c" stroke-width="1.1" stroke-linecap="butt"/>
<text x="267.30" y="605.33" font-size="11.4" text-anchor="end" fill="#0a0a0a" stroke="#0a0a0a" stroke-width="0.15">100</text>
<line x1="267.80" y1="634.96" x2="272.40" y2="634.96" stroke="#1c1c1c" stroke-width="1.1" stroke-linecap="butt"/>
<text x="267.30" y="638.66" font-size="11.4" text-anchor="end" fill="#0a0a0a" stroke="#0a0a0a" stroke-width="0.15">80</text>
<line x1="267.80" y1="668.30" x2="272.40" y2="668.30" stroke="#1c1c1c" stroke-width="1.1" stroke-linecap="butt"/>
<text x="267.30" y="672.00" font-size="11.4" text-anchor="end" fill="#0a0a0a" stroke="#0a0a0a" stroke-width="0.15">60</text>
<line x1="267.80" y1="701.63" x2="272.40" y2="701.63" stroke="#1c1c1c" stroke-width="1.1" stroke-linecap="butt"/>
<text x="267.30" y="705.33" font-size="11.4" text-anchor="end" fill="#0a0a0a" stroke="#0a0a0a" stroke-width="0.15">40</text>
<line x1="267.80" y1="734.97" x2="272.40" y2="734.97" stroke="#1c1c1c" stroke-width="1.1" stroke-linecap="butt"/>
<text x="267.30" y="738.67" font-size="11.4" text-anchor="end" fill="#0a0a0a" stroke="#0a0a0a" stroke-width="0.15">20</text>
<line x1="267.80" y1="768.30" x2="272.40" y2="768.30" stroke="#1c1c1c" stroke-width="1.1" stroke-linecap="butt"/>
<text x="267.30" y="772.00" font-size="11.4" text-anchor="end" fill="#0a0a0a" stroke="#0a0a0a" stroke-width="0.15">0</text>
<line x1="269.60" y1="584.96" x2="272.40" y2="584.96" stroke="#1c1c1c" stroke-width="1.1" stroke-linecap="butt"/>
<line x1="269.60" y1="618.30" x2="272.40" y2="618.30" stroke="#1c1c1c" stroke-width="1.1" stroke-linecap="butt"/>
<line x1="269.60" y1="651.63" x2="272.40" y2="651.63" stroke="#1c1c1c" stroke-width="1.1" stroke-linecap="butt"/>
<line x1="269.60" y1="684.96" x2="272.40" y2="684.96" stroke="#1c1c1c" stroke-width="1.1" stroke-linecap="butt"/>
<line x1="269.60" y1="718.30" x2="272.40" y2="718.30" stroke="#1c1c1c" stroke-width="1.1" stroke-linecap="butt"/>
<line x1="269.60" y1="751.63" x2="272.40" y2="751.63" stroke="#1c1c1c" stroke-width="1.1" stroke-linecap="butt"/>
<line x1="271.75" y1="768.30" x2="422.50" y2="768.30" stroke="#1c1c1c" stroke-width="1.3" stroke-linecap="butt"/>
<line x1="291.50" y1="768.30" x2="291.50" y2="772.50" stroke="#1c1c1c" stroke-width="1.2" stroke-linecap="butt"/>
<text x="291.50" y="782.50" font-size="11.4" text-anchor="middle" fill="#0a0a0a" stroke="#0a0a0a" stroke-width="0.15">0</text>
<line x1="319.50" y1="768.30" x2="319.50" y2="772.50" stroke="#1c1c1c" stroke-width="1.2" stroke-linecap="butt"/>
<text x="319.50" y="782.50" font-size="11.4" text-anchor="middle" fill="#0a0a0a" stroke="#0a0a0a" stroke-width="0.15">1</text>
<line x1="347.50" y1="768.30" x2="347.50" y2="772.50" stroke="#1c1c1c" stroke-width="1.2" stroke-linecap="butt"/>
<text x="347.50" y="782.50" font-size="11.4" text-anchor="middle" fill="#0a0a0a" stroke="#0a0a0a" stroke-width="0.15">2</text>
<line x1="375.50" y1="768.30" x2="375.50" y2="772.50" stroke="#1c1c1c" stroke-width="1.2" stroke-linecap="butt"/>
<text x="375.50" y="782.50" font-size="11.4" text-anchor="middle" fill="#0a0a0a" stroke="#0a0a0a" stroke-width="0.15">3</text>
<line x1="403.50" y1="768.30" x2="403.50" y2="772.50" stroke="#1c1c1c" stroke-width="1.2" stroke-linecap="butt"/>
<text x="403.50" y="782.50" font-size="11.4" text-anchor="middle" fill="#0a0a0a" stroke="#0a0a0a" stroke-width="0.15">4</text>
<text x="347.50" y="798.00" font-size="11.4" text-anchor="middle" fill="#0a0a0a" stroke="#0a0a0a" stroke-width="0.15">Ossicular chain status</text>
<text x="240.10" y="666.90" font-size="11.4" text-anchor="middle" transform="rotate(-90 240.10 666.90)" style="letter-spacing:-0.28px" fill="#0a0a0a" stroke="#0a0a0a" stroke-width="0.15">Postoperative AC (dB)</text>
<text x="233.80" y="524.50" font-size="19.5" text-anchor="start" font-weight="bold" fill="#000" stroke="#000" stroke-width="0.15">H</text>
<path d="M293.25 543.50V537.50H404.00V543.50" fill="none" stroke="#1c1c1c" stroke-width="1.25"/>
<text x="347.50" y="533.25" font-size="11.4" text-anchor="middle" fill="#0a0a0a" stroke="#0a0a0a" stroke-width="0.15">p = 0.02</text>
<path d="M319.50 559.75V553.75H404.00V559.75" fill="none" stroke="#1c1c1c" stroke-width="1.25"/>
<text x="358.25" y="549.25" font-size="11.4" text-anchor="middle" fill="#0a0a0a" stroke="#0a0a0a" stroke-width="0.15">p = 0.04</text>
<rect x="512.25" y="660.90" width="18.00" height="1.30" fill="url(#dots)"/>
<rect x="540.40" y="655.50" width="18.00" height="5.40" fill="url(#dots)"/>
<rect x="568.40" y="658.75" width="18.00" height="2.15" fill="url(#dots)"/>
<rect x="596.50" y="654.50" width="18.00" height="6.40" fill="url(#dots)"/>
<rect x="624.50" y="655.75" width="18.00" height="5.15" fill="url(#dots)"/>
<g fill="#fff" fill-opacity="0.5" stroke="#1e1e1e" stroke-width="0.82">
<circle cx="514.50" cy="658.25" r="2.35"/>
<circle cx="527.50" cy="658.25" r="2.35"/>
<circle cx="521.25" cy="671.25" r="2.35"/>
<circle cx="605.50" cy="638.75" r="2.35"/>
<circle cx="605.50" cy="644.50" r="2.35"/>
<circle cx="605.50" cy="650.00" r="2.35"/>
<circle cx="605.50" cy="666.25" r="2.35"/>
<circle cx="605.50" cy="672.00" r="2.35"/>
<circle cx="633.50" cy="644.25" r="2.35"/>
<circle cx="627.25" cy="660.75" r="2.35"/>
<circle cx="640.25" cy="660.75" r="2.35"/>
<circle cx="577.25" cy="594.25" r="2.35"/>
<circle cx="577.25" cy="752.75" r="2.35"/>
<circle cx="572.75" cy="638.00" r="2.35"/>
<circle cx="579.00" cy="638.75" r="2.35"/>
<circle cx="575.75" cy="640.75" r="2.35"/>
<circle cx="572.75" cy="644.50" r="2.35"/>
<circle cx="582.00" cy="646.25" r="2.35"/>
<circle cx="579.00" cy="647.50" r="2.35"/>
<circle cx="575.75" cy="650.00" r="2.35"/>
<circle cx="570.75" cy="660.75" r="2.35"/>
<circle cx="574.00" cy="660.75" r="2.35"/>
<circle cx="577.50" cy="660.75" r="2.35"/>
<circle cx="580.75" cy="660.75" r="2.35"/>
<circle cx="584.00" cy="660.75" r="2.35"/>
<circle cx="574.00" cy="662.30" r="2.35"/>
<circle cx="579.00" cy="666.25" r="2.35"/>
<circle cx="575.75" cy="672.00" r="2.35"/>
<circle cx="577.50" cy="682.00" r="2.35"/>
<circle cx="549.25" cy="574.75" r="2.35"/>
<circle cx="549.25" cy="733.25" r="2.35"/>
<circle cx="549.20" cy="627.50" r="2.35"/>
<circle cx="549.20" cy="630.00" r="2.35"/>
<circle cx="548.00" cy="639.40" r="2.35"/>
<circle cx="551.00" cy="639.00" r="2.35"/>
<circle cx="547.50" cy="645.00" r="2.35"/>
<circle cx="551.00" cy="644.40" r="2.35"/>
<circle cx="546.00" cy="648.40" r="2.35"/>
<circle cx="551.00" cy="649.00" r="2.35"/>
<circle cx="544.00" cy="653.90" r="2.35"/>
<circle cx="547.50" cy="652.40" r="2.35"/>
<circle cx="552.40" cy="652.90" r="2.35"/>
<circle cx="555.40" cy="653.90" r="2.35"/>
<circle cx="542.40" cy="656.50" r="2.35"/>
<circle cx="545.20" cy="656.50" r="2.35"/>
<circle cx="548.00" cy="656.50" r="2.35"/>
<circle cx="550.80" cy="656.50" r="2.35"/>
<circle cx="553.60" cy="656.50" r="2.35"/>
<circle cx="556.40" cy="656.50" r="2.35"/>
<circle cx="543.60" cy="659.00" r="2.35"/>
<circle cx="546.60" cy="659.00" r="2.35"/>
<circle cx="549.60" cy="659.00" r="2.35"/>
<circle cx="552.60" cy="659.00" r="2.35"/>
<circle cx="555.40" cy="659.00" r="2.35"/>
<circle cx="542.40" cy="661.50" r="2.35"/>
<circle cx="545.20" cy="661.50" r="2.35"/>
<circle cx="548.00" cy="661.50" r="2.35"/>
<circle cx="550.80" cy="661.50" r="2.35"/>
<circle cx="553.60" cy="661.50" r="2.35"/>
<circle cx="556.40" cy="661.50" r="2.35"/>
<circle cx="544.50" cy="664.90" r="2.35"/>
<circle cx="547.50" cy="664.90" r="2.35"/>
<circle cx="551.00" cy="664.90" r="2.35"/>
<circle cx="554.00" cy="664.90" r="2.35"/>
<circle cx="546.00" cy="668.50" r="2.35"/>
<circle cx="549.30" cy="668.50" r="2.35"/>
<circle cx="552.50" cy="668.50" r="2.35"/>
<circle cx="547.50" cy="672.50" r="2.35"/>
<circle cx="550.40" cy="672.50" r="2.35"/>
</g>
<rect x="512.25" y="660.90" width="18.00" height="1.30" fill="none" stroke="#1c1c1c" stroke-width="1.15"/>
<rect x="540.40" y="655.50" width="18.00" height="5.40" fill="none" stroke="#1c1c1c" stroke-width="1.15"/>
<rect x="568.40" y="658.75" width="18.00" height="2.15" fill="none" stroke="#1c1c1c" stroke-width="1.15"/>
<rect x="596.50" y="654.50" width="18.00" height="6.40" fill="none" stroke="#1c1c1c" stroke-width="1.15"/>
<rect x="624.50" y="655.75" width="18.00" height="5.15" fill="none" stroke="#1c1c1c" stroke-width="1.15"/>
<line x1="521.25" y1="655.25" x2="521.25" y2="669.25" stroke="#111" stroke-width="1.65" stroke-linecap="butt"/>
<line x1="515.62" y1="655.25" x2="526.88" y2="655.25" stroke="#111" stroke-width="1.7" stroke-linecap="butt"/>
<line x1="515.62" y1="669.25" x2="526.88" y2="669.25" stroke="#111" stroke-width="1.7" stroke-linecap="butt"/>
<line x1="549.25" y1="632.75" x2="549.25" y2="677.75" stroke="#111" stroke-width="1.65" stroke-linecap="butt"/>
<line x1="543.62" y1="632.75" x2="554.88" y2="632.75" stroke="#111" stroke-width="1.7" stroke-linecap="butt"/>
<line x1="543.62" y1="677.75" x2="554.88" y2="677.75" stroke="#111" stroke-width="1.7" stroke-linecap="butt"/>
<line x1="577.50" y1="627.50" x2="577.50" y2="688.00" stroke="#111" stroke-width="1.65" stroke-linecap="butt"/>
<line x1="571.88" y1="627.50" x2="583.12" y2="627.50" stroke="#111" stroke-width="1.7" stroke-linecap="butt"/>
<line x1="571.88" y1="688.00" x2="583.12" y2="688.00" stroke="#111" stroke-width="1.7" stroke-linecap="butt"/>
<line x1="605.50" y1="639.75" x2="605.50" y2="668.50" stroke="#111" stroke-width="1.65" stroke-linecap="butt"/>
<line x1="599.88" y1="639.75" x2="611.12" y2="639.75" stroke="#111" stroke-width="1.7" stroke-linecap="butt"/>
<line x1="599.88" y1="668.50" x2="611.12" y2="668.50" stroke="#111" stroke-width="1.7" stroke-linecap="butt"/>
<line x1="633.50" y1="645.75" x2="633.50" y2="664.75" stroke="#111" stroke-width="1.65" stroke-linecap="butt"/>
<line x1="627.88" y1="645.75" x2="639.12" y2="645.75" stroke="#111" stroke-width="1.7" stroke-linecap="butt"/>
<line x1="627.88" y1="664.75" x2="639.12" y2="664.75" stroke="#111" stroke-width="1.7" stroke-linecap="butt"/>
<line x1="502.25" y1="571.35" x2="502.25" y2="772.80" stroke="#1c1c1c" stroke-width="1.3" stroke-linecap="butt"/>
<line x1="497.65" y1="571.90" x2="502.25" y2="571.90" stroke="#1c1c1c" stroke-width="1.1" stroke-linecap="butt"/>
<text x="497.15" y="575.60" font-size="11.4" text-anchor="end" fill="#0a0a0a" stroke="#0a0a0a" stroke-width="0.15">80</text>
<line x1="497.65" y1="594.15" x2="502.25" y2="594.15" stroke="#1c1c1c" stroke-width="1.1" stroke-linecap="butt"/>
<text x="497.15" y="597.85" font-size="11.4" text-anchor="end" fill="#0a0a0a" stroke="#0a0a0a" stroke-width="0.15">60</text>
<line x1="497.65" y1="616.40" x2="502.25" y2="616.40" stroke="#1c1c1c" stroke-width="1.1" stroke-linecap="butt"/>
<text x="497.15" y="620.10" font-size="11.4" text-anchor="end" fill="#0a0a0a" stroke="#0a0a0a" stroke-width="0.15">40</text>
<line x1="497.65" y1="638.65" x2="502.25" y2="638.65" stroke="#1c1c1c" stroke-width="1.1" stroke-linecap="butt"/>
<text x="497.15" y="642.35" font-size="11.4" text-anchor="end" fill="#0a0a0a" stroke="#0a0a0a" stroke-width="0.15">20</text>
<line x1="497.65" y1="660.90" x2="502.25" y2="660.90" stroke="#1c1c1c" stroke-width="1.1" stroke-linecap="butt"/>
<text x="497.15" y="664.60" font-size="11.4" text-anchor="end" fill="#0a0a0a" stroke="#0a0a0a" stroke-width="0.15">0</text>
<line x1="497.65" y1="683.15" x2="502.25" y2="683.15" stroke="#1c1c1c" stroke-width="1.1" stroke-linecap="butt"/>
<text x="497.15" y="686.85" font-size="11.4" text-anchor="end" fill="#0a0a0a" stroke="#0a0a0a" stroke-width="0.15">-20</text>
<line x1="497.65" y1="705.40" x2="502.25" y2="705.40" stroke="#1c1c1c" stroke-width="1.1" stroke-linecap="butt"/>
<text x="497.15" y="709.10" font-size="11.4" text-anchor="end" fill="#0a0a0a" stroke="#0a0a0a" stroke-width="0.15">-40</text>
<line x1="497.65" y1="727.65" x2="502.25" y2="727.65" stroke="#1c1c1c" stroke-width="1.1" stroke-linecap="butt"/>
<text x="497.15" y="731.35" font-size="11.4" text-anchor="end" fill="#0a0a0a" stroke="#0a0a0a" stroke-width="0.15">-60</text>
<line x1="497.65" y1="749.90" x2="502.25" y2="749.90" stroke="#1c1c1c" stroke-width="1.1" stroke-linecap="butt"/>
<text x="497.15" y="753.60" font-size="11.4" text-anchor="end" fill="#0a0a0a" stroke="#0a0a0a" stroke-width="0.15">-80</text>
<line x1="497.65" y1="772.15" x2="502.25" y2="772.15" stroke="#1c1c1c" stroke-width="1.1" stroke-linecap="butt"/>
<text x="497.15" y="775.85" font-size="11.4" text-anchor="end" fill="#0a0a0a" stroke="#0a0a0a" stroke-width="0.15">-100</text>
<line x1="501.60" y1="661.05" x2="652.00" y2="661.05" stroke="#1c1c1c" stroke-width="1.45" stroke-linecap="butt"/>
<line x1="501.60" y1="772.15" x2="652.00" y2="772.15" stroke="#1c1c1c" stroke-width="1.3" stroke-linecap="butt"/>
<line x1="521.25" y1="772.15" x2="521.25" y2="776.35" stroke="#1c1c1c" stroke-width="1.2" stroke-linecap="butt"/>
<text x="521.25" y="786.25" font-size="11.4" text-anchor="middle" fill="#0a0a0a" stroke="#0a0a0a" stroke-width="0.15">0</text>
<line x1="549.25" y1="772.15" x2="549.25" y2="776.35" stroke="#1c1c1c" stroke-width="1.2" stroke-linecap="butt"/>
<text x="549.25" y="786.25" font-size="11.4" text-anchor="middle" fill="#0a0a0a" stroke="#0a0a0a" stroke-width="0.15">1</text>
<line x1="577.50" y1="772.15" x2="577.50" y2="776.35" stroke="#1c1c1c" stroke-width="1.2" stroke-linecap="butt"/>
<text x="577.50" y="786.25" font-size="11.4" text-anchor="middle" fill="#0a0a0a" stroke="#0a0a0a" stroke-width="0.15">2</text>
<line x1="605.50" y1="772.15" x2="605.50" y2="776.35" stroke="#1c1c1c" stroke-width="1.2" stroke-linecap="butt"/>
<text x="605.50" y="786.25" font-size="11.4" text-anchor="middle" fill="#0a0a0a" stroke="#0a0a0a" stroke-width="0.15">3</text>
<line x1="633.50" y1="772.15" x2="633.50" y2="776.35" stroke="#1c1c1c" stroke-width="1.2" stroke-linecap="butt"/>
<text x="633.50" y="786.25" font-size="11.4" text-anchor="middle" fill="#0a0a0a" stroke="#0a0a0a" stroke-width="0.15">4</text>
<text x="577.50" y="800.50" font-size="11.4" text-anchor="middle" fill="#0a0a0a" stroke="#0a0a0a" stroke-width="0.15">Ossicular chain status</text>
<text x="471.00" y="670.30" font-size="11.4" text-anchor="middle" transform="rotate(-90 471.00 670.30)" fill="#0a0a0a" stroke="#0a0a0a" stroke-width="0.15">AC shift (dB)</text>
<text x="458.50" y="521.75" font-size="19.5" text-anchor="start" font-weight="bold" fill="#000" stroke="#000" stroke-width="0.15">I</text>
<rect x="55.47" y="957.25" width="18.25" height="58.35" fill="url(#dots)"/>
<rect x="83.47" y="943.25" width="18.25" height="72.35" fill="url(#dots)"/>
<rect x="111.47" y="931.75" width="18.25" height="83.85" fill="url(#dots)"/>
<rect x="140.00" y="905.00" width="18.00" height="110.60" fill="url(#dots)"/>
<rect x="167.78" y="988.50" width="18.25" height="27.10" fill="url(#dots)"/>
<g fill="#fff" fill-opacity="0.5" stroke="#1e1e1e" stroke-width="0.82">
<circle cx="64.50" cy="901.25" r="2.35"/>
<circle cx="64.50" cy="907.00" r="2.35"/>
<circle cx="64.50" cy="961.50" r="2.35"/>
<circle cx="64.50" cy="978.25" r="2.35"/>
<circle cx="64.50" cy="986.25" r="2.35"/>
<circle cx="64.50" cy="1007.25" r="2.35"/>
<circle cx="148.75" cy="857.25" r="2.35"/>
<circle cx="148.75" cy="873.75" r="2.35"/>
<circle cx="142.00" cy="899.25" r="2.35"/>
<circle cx="148.75" cy="902.50" r="2.35"/>
<circle cx="143.00" cy="905.00" r="2.35"/>
<circle cx="155.50" cy="907.50" r="2.35"/>
<circle cx="148.75" cy="941.00" r="2.35"/>
<circle cx="148.75" cy="949.25" r="2.35"/>
<circle cx="176.75" cy="932.25" r="2.35"/>
<circle cx="170.00" cy="1015.50" r="2.35"/>
<circle cx="183.75" cy="1015.50" r="2.35"/>
<circle cx="120.75" cy="853.25" r="2.35"/>
<circle cx="120.75" cy="861.25" r="2.35"/>
<circle cx="120.75" cy="874.00" r="2.35"/>
<circle cx="120.75" cy="882.50" r="2.35"/>
<circle cx="120.75" cy="894.50" r="2.35"/>
<circle cx="120.75" cy="907.50" r="2.35"/>
<circle cx="113.90" cy="915.70" r="2.35"/>
<circle cx="123.00" cy="915.70" r="2.35"/>
<circle cx="118.00" cy="919.80" r="2.35"/>
<circle cx="127.20" cy="919.80" r="2.35"/>
<circle cx="123.00" cy="924.10" r="2.35"/>
<circle cx="118.00" cy="934.80" r="2.35"/>
<circle cx="123.00" cy="934.80" r="2.35"/>
<circle cx="120.90" cy="944.70" r="2.35"/>
<circle cx="115.90" cy="957.30" r="2.35"/>
<circle cx="120.90" cy="957.30" r="2.35"/>
<circle cx="125.30" cy="957.30" r="2.35"/>
<circle cx="127.60" cy="965.30" r="2.35"/>
<circle cx="113.90" cy="969.60" r="2.35"/>
<circle cx="123.00" cy="969.60" r="2.35"/>
<circle cx="118.00" cy="973.70" r="2.35"/>
<circle cx="120.90" cy="982.10" r="2.35"/>
<circle cx="120.90" cy="1007.60" r="2.35"/>
<circle cx="91.40" cy="869.90" r="2.35"/>
<circle cx="93.70" cy="869.90" r="2.35"/>
<circle cx="92.50" cy="881.30" r="2.35"/>
<circle cx="92.50" cy="883.80" r="2.35"/>
<circle cx="92.50" cy="886.50" r="2.35"/>
<circle cx="92.50" cy="889.00" r="2.35"/>
<circle cx="92.50" cy="898.90" r="2.35"/>
<circle cx="91.00" cy="902.70" r="2.35"/>
<circle cx="94.00" cy="906.50" r="2.35"/>
<circle cx="89.50" cy="911.00" r="2.35"/>
<circle cx="92.50" cy="910.40" r="2.35"/>
<circle cx="95.10" cy="910.40" r="2.35"/>
<circle cx="89.50" cy="924.10" r="2.35"/>
<circle cx="92.50" cy="924.10" r="2.35"/>
<circle cx="95.60" cy="924.10" r="2.35"/>
<circle cx="91.00" cy="931.80" r="2.35"/>
<circle cx="94.00" cy="931.80" r="2.35"/>
<circle cx="89.50" cy="940.20" r="2.35"/>
<circle cx="92.50" cy="940.20" r="2.35"/>
<circle cx="95.10" cy="940.20" r="2.35"/>
<circle cx="89.50" cy="945.50" r="2.35"/>
<circle cx="94.00" cy="945.50" r="2.35"/>
<circle cx="91.00" cy="953.00" r="2.35"/>
<circle cx="94.00" cy="949.50" r="2.35"/>
<circle cx="94.00" cy="957.00" r="2.35"/>
<circle cx="87.90" cy="961.50" r="2.35"/>
<circle cx="91.00" cy="961.50" r="2.35"/>
<circle cx="94.00" cy="961.50" r="2.35"/>
<circle cx="97.10" cy="961.50" r="2.35"/>
<circle cx="89.50" cy="965.30" r="2.35"/>
<circle cx="92.50" cy="965.30" r="2.35"/>
<circle cx="96.30" cy="965.30" r="2.35"/>
<circle cx="91.00" cy="970.00" r="2.35"/>
<circle cx="94.00" cy="970.00" r="2.35"/>
<circle cx="84.90" cy="977.60" r="2.35"/>
<circle cx="87.20" cy="977.60" r="2.35"/>
<circle cx="89.50" cy="977.60" r="2.35"/>
<circle cx="92.00" cy="977.60" r="2.35"/>
<circle cx="94.50" cy="977.60" r="2.35"/>
<circle cx="97.00" cy="977.60" r="2.35"/>
<circle cx="99.40" cy="977.60" r="2.35"/>
<circle cx="91.00" cy="982.10" r="2.35"/>
<circle cx="92.50" cy="994.80" r="2.35"/>
<circle cx="91.40" cy="1007.60" r="2.35"/>
<circle cx="93.70" cy="1007.60" r="2.35"/>
</g>
<rect x="55.47" y="957.25" width="18.25" height="58.35" fill="none" stroke="#1c1c1c" stroke-width="1.15"/>
<rect x="83.47" y="943.25" width="18.25" height="72.35" fill="none" stroke="#1c1c1c" stroke-width="1.15"/>
<rect x="111.47" y="931.75" width="18.25" height="83.85" fill="none" stroke="#1c1c1c" stroke-width="1.15"/>
<rect x="140.00" y="905.00" width="18.00" height="110.60" fill="none" stroke="#1c1c1c" stroke-width="1.15"/>
<rect x="167.78" y="988.50" width="18.25" height="27.10" fill="none" stroke="#1c1c1c" stroke-width="1.15"/>
<line x1="64.50" y1="913.25" x2="64.50" y2="1000.50" stroke="#111" stroke-width="1.65" stroke-linecap="butt"/>
<line x1="58.88" y1="913.25" x2="70.12" y2="913.25" stroke="#111" stroke-width="1.7" stroke-linecap="butt"/>
<line x1="58.88" y1="1000.50" x2="70.12" y2="1000.50" stroke="#111" stroke-width="1.7" stroke-linecap="butt"/>
<line x1="92.75" y1="908.50" x2="92.75" y2="977.50" stroke="#111" stroke-width="1.65" stroke-linecap="butt"/>
<line x1="87.12" y1="908.50" x2="98.38" y2="908.50" stroke="#111" stroke-width="1.7" stroke-linecap="butt"/>
<line x1="87.12" y1="977.50" x2="98.38" y2="977.50" stroke="#111" stroke-width="1.7" stroke-linecap="butt"/>
<line x1="120.75" y1="891.00" x2="120.75" y2="971.50" stroke="#111" stroke-width="1.65" stroke-linecap="butt"/>
<line x1="115.12" y1="891.00" x2="126.38" y2="891.00" stroke="#111" stroke-width="1.7" stroke-linecap="butt"/>
<line x1="115.12" y1="971.50" x2="126.38" y2="971.50" stroke="#111" stroke-width="1.7" stroke-linecap="butt"/>
<line x1="148.75" y1="874.00" x2="148.75" y2="935.00" stroke="#111" stroke-width="1.65" stroke-linecap="butt"/>
<line x1="143.12" y1="874.00" x2="154.38" y2="874.00" stroke="#111" stroke-width="1.7" stroke-linecap="butt"/>
<line x1="143.12" y1="935.00" x2="154.38" y2="935.00" stroke="#111" stroke-width="1.7" stroke-linecap="butt"/>
<line x1="176.75" y1="940.00" x2="176.75" y2="1015.60" stroke="#111" stroke-width="1.65" stroke-linecap="butt"/>
<line x1="171.12" y1="940.00" x2="182.38" y2="940.00" stroke="#111" stroke-width="1.7" stroke-linecap="butt"/>
<line x1="45.70" y1="815.10" x2="45.70" y2="1016.25" stroke="#1c1c1c" stroke-width="1.3" stroke-linecap="butt"/>
<line x1="41.10" y1="815.70" x2="45.70" y2="815.70" stroke="#1c1c1c" stroke-width="1.1" stroke-linecap="butt"/>
<text x="40.60" y="819.40" font-size="11.4" text-anchor="end" fill="#0a0a0a" stroke="#0a0a0a" stroke-width="0.15">60</text>
<line x1="41.10" y1="849.01" x2="45.70" y2="849.01" stroke="#1c1c1c" stroke-width="1.1" stroke-linecap="butt"/>
<text x="40.60" y="852.72" font-size="11.4" text-anchor="end" fill="#0a0a0a" stroke="#0a0a0a" stroke-width="0.15">50</text>
<line x1="41.10" y1="882.33" x2="45.70" y2="882.33" stroke="#1c1c1c" stroke-width="1.1" stroke-linecap="butt"/>
<text x="40.60" y="886.03" font-size="11.4" text-anchor="end" fill="#0a0a0a" stroke="#0a0a0a" stroke-width="0.15">40</text>
<line x1="41.10" y1="915.65" x2="45.70" y2="915.65" stroke="#1c1c1c" stroke-width="1.1" stroke-linecap="butt"/>
<text x="40.60" y="919.35" font-size="11.4" text-anchor="end" fill="#0a0a0a" stroke="#0a0a0a" stroke-width="0.15">30</text>
<line x1="41.10" y1="948.97" x2="45.70" y2="948.97" stroke="#1c1c1c" stroke-width="1.1" stroke-linecap="butt"/>
<text x="40.60" y="952.67" font-size="11.4" text-anchor="end" fill="#0a0a0a" stroke="#0a0a0a" stroke-width="0.15">20</text>
<line x1="41.10" y1="982.28" x2="45.70" y2="982.28" stroke="#1c1c1c" stroke-width="1.1" stroke-linecap="butt"/>
<text x="40.60" y="985.98" font-size="11.4" text-anchor="end" fill="#0a0a0a" stroke="#0a0a0a" stroke-width="0.15">10</text>
<line x1="41.10" y1="1015.60" x2="45.70" y2="1015.60" stroke="#1c1c1c" stroke-width="1.1" stroke-linecap="butt"/>
<text x="40.60" y="1019.30" font-size="11.4" text-anchor="end" fill="#0a0a0a" stroke="#0a0a0a" stroke-width="0.15">0</text>
<line x1="42.90" y1="832.36" x2="45.70" y2="832.36" stroke="#1c1c1c" stroke-width="1.1" stroke-linecap="butt"/>
<line x1="42.90" y1="865.67" x2="45.70" y2="865.67" stroke="#1c1c1c" stroke-width="1.1" stroke-linecap="butt"/>
<line x1="42.90" y1="898.99" x2="45.70" y2="898.99" stroke="#1c1c1c" stroke-width="1.1" stroke-linecap="butt"/>
<line x1="42.90" y1="932.31" x2="45.70" y2="932.31" stroke="#1c1c1c" stroke-width="1.1" stroke-linecap="butt"/>
<line x1="42.90" y1="965.62" x2="45.70" y2="965.62" stroke="#1c1c1c" stroke-width="1.1" stroke-linecap="butt"/>
<line x1="42.90" y1="998.94" x2="45.70" y2="998.94" stroke="#1c1c1c" stroke-width="1.1" stroke-linecap="butt"/>
<line x1="45.05" y1="1015.60" x2="196.00" y2="1015.60" stroke="#1c1c1c" stroke-width="1.3" stroke-linecap="butt"/>
<line x1="64.40" y1="1015.60" x2="64.40" y2="1019.80" stroke="#1c1c1c" stroke-width="1.2" stroke-linecap="butt"/>
<text x="64.40" y="1030.00" font-size="11.4" text-anchor="middle" fill="#0a0a0a" stroke="#0a0a0a" stroke-width="0.15">0</text>
<line x1="92.50" y1="1015.60" x2="92.50" y2="1019.80" stroke="#1c1c1c" stroke-width="1.2" stroke-linecap="butt"/>
<text x="92.50" y="1030.00" font-size="11.4" text-anchor="middle" fill="#0a0a0a" stroke="#0a0a0a" stroke-width="0.15">1</text>
<line x1="120.60" y1="1015.60" x2="120.60" y2="1019.80" stroke="#1c1c1c" stroke-width="1.2" stroke-linecap="butt"/>
<text x="120.60" y="1030.00" font-size="11.4" text-anchor="middle" fill="#0a0a0a" stroke="#0a0a0a" stroke-width="0.15">2</text>
<line x1="148.70" y1="1015.60" x2="148.70" y2="1019.80" stroke="#1c1c1c" stroke-width="1.2" stroke-linecap="butt"/>
<text x="148.70" y="1030.00" font-size="11.4" text-anchor="middle" fill="#0a0a0a" stroke="#0a0a0a" stroke-width="0.15">3</text>
<line x1="176.75" y1="1015.60" x2="176.75" y2="1019.80" stroke="#1c1c1c" stroke-width="1.2" stroke-linecap="butt"/>
<text x="176.75" y="1030.00" font-size="11.4" text-anchor="middle" fill="#0a0a0a" stroke="#0a0a0a" stroke-width="0.15">4</text>
<text x="121.50" y="1045.20" font-size="11.4" text-anchor="middle" fill="#0a0a0a" stroke="#0a0a0a" stroke-width="0.15">Ossicular chain status</text>
<text x="19.90" y="914.55" font-size="11.4" text-anchor="middle" transform="rotate(-90 19.90 914.55)" fill="#0a0a0a" stroke="#0a0a0a" stroke-width="0.15">Preoperative ABG (dB)</text>
<text x="0.50" y="814.25" font-size="19.5" text-anchor="start" font-weight="bold" fill="#000" stroke="#000" stroke-width="0.15">J</text>
<rect x="283.25" y="973.50" width="18.50" height="42.00" fill="url(#dots)"/>
<rect x="311.48" y="953.00" width="18.25" height="62.50" fill="url(#dots)"/>
<rect x="339.48" y="950.25" width="18.25" height="65.25" fill="url(#dots)"/>
<rect x="367.50" y="908.00" width="18.50" height="107.50" fill="url(#dots)"/>
<rect x="396.00" y="997.50" width="18.50" height="18.00" fill="url(#dots)"/>
<g fill="#fff" fill-opacity="0.5" stroke="#1e1e1e" stroke-width="0.82">
<circle cx="285.75" cy="965.50" r="2.35"/>
<circle cx="299.50" cy="965.50" r="2.35"/>
<circle cx="292.50" cy="976.75" r="2.35"/>
<circle cx="292.50" cy="985.50" r="2.35"/>
<circle cx="377.00" cy="860.50" r="2.35"/>
<circle cx="377.00" cy="875.00" r="2.35"/>
<circle cx="377.00" cy="905.50" r="2.35"/>
<circle cx="377.00" cy="930.50" r="2.35"/>
<circle cx="377.00" cy="965.50" r="2.35"/>
<circle cx="405.00" cy="960.75" r="2.35"/>
<circle cx="398.25" cy="1015.50" r="2.35"/>
<circle cx="412.00" cy="1015.50" r="2.35"/>
<circle cx="348.75" cy="860.50" r="2.35"/>
<circle cx="348.75" cy="895.50" r="2.35"/>
<circle cx="345.50" cy="900.60" r="2.35"/>
<circle cx="352.00" cy="900.60" r="2.35"/>
<circle cx="348.80" cy="910.50" r="2.35"/>
<circle cx="348.80" cy="930.40" r="2.35"/>
<circle cx="348.80" cy="940.50" r="2.35"/>
<circle cx="348.80" cy="945.20" r="2.35"/>
<circle cx="345.50" cy="950.60" r="2.35"/>
<circle cx="352.60" cy="950.60" r="2.35"/>
<circle cx="345.50" cy="960.70" r="2.35"/>
<circle cx="352.00" cy="960.70" r="2.35"/>
<circle cx="348.80" cy="965.50" r="2.35"/>
<circle cx="348.80" cy="970.80" r="2.35"/>
<circle cx="345.50" cy="981.00" r="2.35"/>
<circle cx="352.00" cy="981.00" r="2.35"/>
<circle cx="341.90" cy="1015.50" r="2.35"/>
<circle cx="348.60" cy="1015.50" r="2.35"/>
<circle cx="355.60" cy="1015.50" r="2.35"/>
<circle cx="320.75" cy="840.50" r="2.35"/>
<circle cx="320.75" cy="845.50" r="2.35"/>
<circle cx="319.00" cy="910.50" r="2.35"/>
<circle cx="320.60" cy="910.50" r="2.35"/>
<circle cx="322.30" cy="910.50" r="2.35"/>
<circle cx="320.60" cy="920.20" r="2.35"/>
<circle cx="320.60" cy="925.40" r="2.35"/>
<circle cx="320.60" cy="930.40" r="2.35"/>
<circle cx="319.30" cy="935.10" r="2.35"/>
<circle cx="321.90" cy="935.10" r="2.35"/>
<circle cx="316.10" cy="945.20" r="2.35"/>
<circle cx="315.70" cy="950.60" r="2.35"/>
<circle cx="320.60" cy="950.60" r="2.35"/>
<circle cx="322.50" cy="950.60" r="2.35"/>
<circle cx="324.50" cy="950.60" r="2.35"/>
<circle cx="326.50" cy="950.60" r="2.35"/>
<circle cx="328.80" cy="950.60" r="2.35"/>
<circle cx="316.90" cy="955.40" r="2.35"/>
<circle cx="320.60" cy="955.40" r="2.35"/>
<circle cx="324.00" cy="955.40" r="2.35"/>
<circle cx="318.10" cy="960.70" r="2.35"/>
<circle cx="320.60" cy="960.70" r="2.35"/>
<circle cx="323.10" cy="960.70" r="2.35"/>
<circle cx="319.30" cy="965.50" r="2.35"/>
<circle cx="321.90" cy="965.50" r="2.35"/>
<circle cx="320.60" cy="970.20" r="2.35"/>
<circle cx="319.30" cy="981.00" r="2.35"/>
<circle cx="321.90" cy="981.00" r="2.35"/>
<circle cx="320.60" cy="985.10" r="2.35"/>
<circle cx="320.60" cy="995.20" r="2.35"/>
<circle cx="320.60" cy="1000.80" r="2.35"/>
<circle cx="318.70" cy="1015.50" r="2.35"/>
<circle cx="320.60" cy="1015.50" r="2.35"/>
<circle cx="322.50" cy="1015.50" r="2.35"/>
</g>
<rect x="283.25" y="973.50" width="18.50" height="42.00" fill="none" stroke="#1c1c1c" stroke-width="1.15"/>
<rect x="311.48" y="953.00" width="18.25" height="62.50" fill="none" stroke="#1c1c1c" stroke-width="1.15"/>
<rect x="339.48" y="950.25" width="18.25" height="65.25" fill="none" stroke="#1c1c1c" stroke-width="1.15"/>
<rect x="367.50" y="908.00" width="18.50" height="107.50" fill="none" stroke="#1c1c1c" stroke-width="1.15"/>
<rect x="396.00" y="997.50" width="18.50" height="18.00" fill="none" stroke="#1c1c1c" stroke-width="1.15"/>
<line x1="292.50" y1="963.50" x2="292.50" y2="982.50" stroke="#111" stroke-width="1.65" stroke-linecap="butt"/>
<line x1="286.88" y1="963.50" x2="298.12" y2="963.50" stroke="#111" stroke-width="1.7" stroke-linecap="butt"/>
<line x1="286.88" y1="982.50" x2="298.12" y2="982.50" stroke="#111" stroke-width="1.7" stroke-linecap="butt"/>
<line x1="320.75" y1="913.75" x2="320.75" y2="992.00" stroke="#111" stroke-width="1.65" stroke-linecap="butt"/>
<line x1="315.12" y1="913.75" x2="326.38" y2="913.75" stroke="#111" stroke-width="1.7" stroke-linecap="butt"/>
<line x1="315.12" y1="992.00" x2="326.38" y2="992.00" stroke="#111" stroke-width="1.7" stroke-linecap="butt"/>
<line x1="348.75" y1="906.75" x2="348.75" y2="993.00" stroke="#111" stroke-width="1.65" stroke-linecap="butt"/>
<line x1="343.12" y1="906.75" x2="354.38" y2="906.75" stroke="#111" stroke-width="1.7" stroke-linecap="butt"/>
<line x1="343.12" y1="993.00" x2="354.38" y2="993.00" stroke="#111" stroke-width="1.7" stroke-linecap="butt"/>
<line x1="377.00" y1="865.00" x2="377.00" y2="949.75" stroke="#111" stroke-width="1.65" stroke-linecap="butt"/>
<line x1="371.38" y1="865.00" x2="382.62" y2="865.00" stroke="#111" stroke-width="1.7" stroke-linecap="butt"/>
<line x1="371.38" y1="949.75" x2="382.62" y2="949.75" stroke="#111" stroke-width="1.7" stroke-linecap="butt"/>
<line x1="405.00" y1="965.50" x2="405.00" y2="1015.50" stroke="#111" stroke-width="1.65" stroke-linecap="butt"/>
<line x1="399.38" y1="965.50" x2="410.62" y2="965.50" stroke="#111" stroke-width="1.7" stroke-linecap="butt"/>
<line x1="274.10" y1="815.10" x2="274.10" y2="1016.15" stroke="#1c1c1c" stroke-width="1.3" stroke-linecap="butt"/>
<line x1="269.50" y1="815.75" x2="274.10" y2="815.75" stroke="#1c1c1c" stroke-width="1.1" stroke-linecap="butt"/>
<text x="269.00" y="819.45" font-size="11.4" text-anchor="end" fill="#0a0a0a" stroke="#0a0a0a" stroke-width="0.15">50</text>
<line x1="269.50" y1="855.70" x2="274.10" y2="855.70" stroke="#1c1c1c" stroke-width="1.1" stroke-linecap="butt"/>
<text x="269.00" y="859.40" font-size="11.4" text-anchor="end" fill="#0a0a0a" stroke="#0a0a0a" stroke-width="0.15">40</text>
<line x1="269.50" y1="895.65" x2="274.10" y2="895.65" stroke="#1c1c1c" stroke-width="1.1" stroke-linecap="butt"/>
<text x="269.00" y="899.35" font-size="11.4" text-anchor="end" fill="#0a0a0a" stroke="#0a0a0a" stroke-width="0.15">30</text>
<line x1="269.50" y1="935.60" x2="274.10" y2="935.60" stroke="#1c1c1c" stroke-width="1.1" stroke-linecap="butt"/>
<text x="269.00" y="939.30" font-size="11.4" text-anchor="end" fill="#0a0a0a" stroke="#0a0a0a" stroke-width="0.15">20</text>
<line x1="269.50" y1="975.55" x2="274.10" y2="975.55" stroke="#1c1c1c" stroke-width="1.1" stroke-linecap="butt"/>
<text x="269.00" y="979.25" font-size="11.4" text-anchor="end" fill="#0a0a0a" stroke="#0a0a0a" stroke-width="0.15">10</text>
<line x1="269.50" y1="1015.50" x2="274.10" y2="1015.50" stroke="#1c1c1c" stroke-width="1.1" stroke-linecap="butt"/>
<text x="269.00" y="1019.20" font-size="11.4" text-anchor="end" fill="#0a0a0a" stroke="#0a0a0a" stroke-width="0.15">0</text>
<line x1="271.30" y1="835.73" x2="274.10" y2="835.73" stroke="#1c1c1c" stroke-width="1.1" stroke-linecap="butt"/>
<line x1="271.30" y1="875.67" x2="274.10" y2="875.67" stroke="#1c1c1c" stroke-width="1.1" stroke-linecap="butt"/>
<line x1="271.30" y1="915.62" x2="274.10" y2="915.62" stroke="#1c1c1c" stroke-width="1.1" stroke-linecap="butt"/>
<line x1="271.30" y1="955.58" x2="274.10" y2="955.58" stroke="#1c1c1c" stroke-width="1.1" stroke-linecap="butt"/>
<line x1="271.30" y1="995.52" x2="274.10" y2="995.52" stroke="#1c1c1c" stroke-width="1.1" stroke-linecap="butt"/>
<line x1="273.45" y1="1015.50" x2="423.75" y2="1015.50" stroke="#1c1c1c" stroke-width="1.3" stroke-linecap="butt"/>
<line x1="292.75" y1="1015.50" x2="292.75" y2="1019.70" stroke="#1c1c1c" stroke-width="1.2" stroke-linecap="butt"/>
<text x="292.75" y="1030.00" font-size="11.4" text-anchor="middle" fill="#0a0a0a" stroke="#0a0a0a" stroke-width="0.15">0</text>
<line x1="320.75" y1="1015.50" x2="320.75" y2="1019.70" stroke="#1c1c1c" stroke-width="1.2" stroke-linecap="butt"/>
<text x="320.75" y="1030.00" font-size="11.4" text-anchor="middle" fill="#0a0a0a" stroke="#0a0a0a" stroke-width="0.15">1</text>
<line x1="348.75" y1="1015.50" x2="348.75" y2="1019.70" stroke="#1c1c1c" stroke-width="1.2" stroke-linecap="butt"/>
<text x="348.75" y="1030.00" font-size="11.4" text-anchor="middle" fill="#0a0a0a" stroke="#0a0a0a" stroke-width="0.15">2</text>
<line x1="377.00" y1="1015.50" x2="377.00" y2="1019.70" stroke="#1c1c1c" stroke-width="1.2" stroke-linecap="butt"/>
<text x="377.00" y="1030.00" font-size="11.4" text-anchor="middle" fill="#0a0a0a" stroke="#0a0a0a" stroke-width="0.15">3</text>
<line x1="405.00" y1="1015.50" x2="405.00" y2="1019.70" stroke="#1c1c1c" stroke-width="1.2" stroke-linecap="butt"/>
<text x="405.00" y="1030.00" font-size="11.4" text-anchor="middle" fill="#0a0a0a" stroke="#0a0a0a" stroke-width="0.15">4</text>
<text x="349.00" y="1045.20" font-size="11.4" text-anchor="middle" fill="#0a0a0a" stroke="#0a0a0a" stroke-width="0.15">Ossicular chain status</text>
<text x="249.20" y="914.55" font-size="11.4" text-anchor="middle" transform="rotate(-90 249.20 914.55)" style="letter-spacing:-0.28px" fill="#0a0a0a" stroke="#0a0a0a" stroke-width="0.15">Postoperative ABG (dB)</text>
<text x="234.30" y="814.25" font-size="19.5" text-anchor="start" font-weight="bold" fill="#000" stroke="#000" stroke-width="0.15">K</text>
<rect x="512.02" y="958.50" width="17.75" height="4.50" fill="url(#dots)"/>
<rect x="540.25" y="944.50" width="18.00" height="14.00" fill="url(#dots)"/>
<rect x="568.25" y="938.25" width="18.00" height="20.25" fill="url(#dots)"/>
<rect x="596.50" y="938.25" width="18.00" height="20.25" fill="url(#dots)"/>
<rect x="624.50" y="948.25" width="18.00" height="10.25" fill="url(#dots)"/>
<g fill="#fff" fill-opacity="0.5" stroke="#1e1e1e" stroke-width="0.82">
<circle cx="520.75" cy="947.50" r="2.35"/>
<circle cx="520.75" cy="955.00" r="2.35"/>
<circle cx="520.75" cy="987.50" r="2.35"/>
<circle cx="598.50" cy="901.25" r="2.35"/>
<circle cx="612.00" cy="901.25" r="2.35"/>
<circle cx="605.25" cy="922.50" r="2.35"/>
<circle cx="605.25" cy="969.25" r="2.35"/>
<circle cx="605.25" cy="994.25" r="2.35"/>
<circle cx="633.50" cy="926.50" r="2.35"/>
<circle cx="626.75" cy="958.50" r="2.35"/>
<circle cx="640.25" cy="958.50" r="2.35"/>
<circle cx="577.00" cy="844.25" r="2.35"/>
<circle cx="577.25" cy="898.00" r="2.35"/>
<circle cx="577.25" cy="908.25" r="2.35"/>
<circle cx="584.00" cy="912.00" r="2.35"/>
<circle cx="577.25" cy="915.50" r="2.35"/>
<circle cx="570.25" cy="919.25" r="2.35"/>
<circle cx="577.25" cy="922.50" r="2.35"/>
<circle cx="584.00" cy="922.50" r="2.35"/>
<circle cx="570.25" cy="926.25" r="2.35"/>
<circle cx="577.25" cy="930.00" r="2.35"/>
<circle cx="584.00" cy="930.00" r="2.35"/>
<circle cx="577.25" cy="955.00" r="2.35"/>
<circle cx="570.25" cy="958.50" r="2.35"/>
<circle cx="584.00" cy="958.50" r="2.35"/>
<circle cx="574.00" cy="983.75" r="2.35"/>
<circle cx="580.75" cy="983.75" r="2.35"/>
<circle cx="574.00" cy="1005.00" r="2.35"/>
<circle cx="580.75" cy="1005.00" r="2.35"/>
<circle cx="549.00" cy="833.50" r="2.35"/>
<circle cx="549.25" cy="862.50" r="2.35"/>
<circle cx="549.25" cy="894.25" r="2.35"/>
<circle cx="549.25" cy="905.00" r="2.35"/>
<circle cx="549.25" cy="912.00" r="2.35"/>
<circle cx="545.75" cy="922.50" r="2.35"/>
<circle cx="549.25" cy="922.50" r="2.35"/>
<circle cx="552.75" cy="922.50" r="2.35"/>
<circle cx="549.25" cy="933.25" r="2.35"/>
<circle cx="544.00" cy="940.50" r="2.35"/>
<circle cx="545.75" cy="944.25" r="2.35"/>
<circle cx="552.75" cy="944.25" r="2.35"/>
<circle cx="542.25" cy="947.50" r="2.35"/>
<circle cx="545.75" cy="947.50" r="2.35"/>
<circle cx="549.25" cy="947.50" r="2.35"/>
<circle cx="552.75" cy="947.50" r="2.35"/>
<circle cx="556.00" cy="947.50" r="2.35"/>
<circle cx="549.25" cy="955.00" r="2.35"/>
<circle cx="545.75" cy="958.50" r="2.35"/>
<circle cx="552.75" cy="958.50" r="2.35"/>
<circle cx="549.25" cy="958.50" r="2.35"/>
<circle cx="545.75" cy="962.00" r="2.35"/>
<circle cx="554.50" cy="962.00" r="2.35"/>
<circle cx="544.00" cy="965.00" r="2.35"/>
<circle cx="547.50" cy="965.50" r="2.35"/>
<circle cx="549.25" cy="967.50" r="2.35"/>
<circle cx="549.25" cy="976.25" r="2.35"/>
<circle cx="547.50" cy="983.75" r="2.35"/>
<circle cx="551.00" cy="983.75" r="2.35"/>
<circle cx="549.25" cy="1005.00" r="2.35"/>
</g>
<rect x="512.02" y="958.50" width="17.75" height="4.50" fill="none" stroke="#1c1c1c" stroke-width="1.15"/>
<rect x="540.25" y="944.50" width="18.00" height="14.00" fill="none" stroke="#1c1c1c" stroke-width="1.15"/>
<rect x="568.25" y="938.25" width="18.00" height="20.25" fill="none" stroke="#1c1c1c" stroke-width="1.15"/>
<rect x="596.50" y="938.25" width="18.00" height="20.25" fill="none" stroke="#1c1c1c" stroke-width="1.15"/>
<rect x="624.50" y="948.25" width="18.00" height="10.25" fill="none" stroke="#1c1c1c" stroke-width="1.15"/>
<line x1="520.75" y1="942.50" x2="520.75" y2="984.25" stroke="#111" stroke-width="1.65" stroke-linecap="butt"/>
<line x1="515.12" y1="942.50" x2="526.38" y2="942.50" stroke="#111" stroke-width="1.7" stroke-linecap="butt"/>
<line x1="515.12" y1="984.25" x2="526.38" y2="984.25" stroke="#111" stroke-width="1.7" stroke-linecap="butt"/>
<line x1="549.25" y1="909.75" x2="549.25" y2="977.50" stroke="#111" stroke-width="1.65" stroke-linecap="butt"/>
<line x1="543.62" y1="909.75" x2="554.88" y2="909.75" stroke="#111" stroke-width="1.7" stroke-linecap="butt"/>
<line x1="543.62" y1="977.50" x2="554.88" y2="977.50" stroke="#111" stroke-width="1.7" stroke-linecap="butt"/>
<line x1="577.25" y1="897.50" x2="577.25" y2="978.25" stroke="#111" stroke-width="1.65" stroke-linecap="butt"/>
<line x1="571.62" y1="897.50" x2="582.88" y2="897.50" stroke="#111" stroke-width="1.7" stroke-linecap="butt"/>
<line x1="571.62" y1="978.25" x2="582.88" y2="978.25" stroke="#111" stroke-width="1.7" stroke-linecap="butt"/>
<line x1="605.25" y1="895.75" x2="605.25" y2="980.00" stroke="#111" stroke-width="1.65" stroke-linecap="butt"/>
<line x1="599.62" y1="895.75" x2="610.88" y2="895.75" stroke="#111" stroke-width="1.7" stroke-linecap="butt"/>
<line x1="599.62" y1="980.00" x2="610.88" y2="980.00" stroke="#111" stroke-width="1.7" stroke-linecap="butt"/>
<line x1="633.50" y1="929.25" x2="633.50" y2="966.25" stroke="#111" stroke-width="1.65" stroke-linecap="butt"/>
<line x1="627.88" y1="929.25" x2="639.12" y2="929.25" stroke="#111" stroke-width="1.7" stroke-linecap="butt"/>
<line x1="627.88" y1="966.25" x2="639.12" y2="966.25" stroke="#111" stroke-width="1.7" stroke-linecap="butt"/>
<line x1="502.25" y1="815.10" x2="502.25" y2="1016.25" stroke="#1c1c1c" stroke-width="1.3" stroke-linecap="butt"/>
<line x1="497.65" y1="815.75" x2="502.25" y2="815.75" stroke="#1c1c1c" stroke-width="1.1" stroke-linecap="butt"/>
<text x="497.15" y="819.45" font-size="11.4" text-anchor="end" fill="#0a0a0a" stroke="#0a0a0a" stroke-width="0.15">50</text>
<line x1="497.65" y1="844.30" x2="502.25" y2="844.30" stroke="#1c1c1c" stroke-width="1.1" stroke-linecap="butt"/>
<text x="497.15" y="848.00" font-size="11.4" text-anchor="end" fill="#0a0a0a" stroke="#0a0a0a" stroke-width="0.15">40</text>
<line x1="497.65" y1="872.85" x2="502.25" y2="872.85" stroke="#1c1c1c" stroke-width="1.1" stroke-linecap="butt"/>
<text x="497.15" y="876.55" font-size="11.4" text-anchor="end" fill="#0a0a0a" stroke="#0a0a0a" stroke-width="0.15">30</text>
<line x1="497.65" y1="901.40" x2="502.25" y2="901.40" stroke="#1c1c1c" stroke-width="1.1" stroke-linecap="butt"/>
<text x="497.15" y="905.10" font-size="11.4" text-anchor="end" fill="#0a0a0a" stroke="#0a0a0a" stroke-width="0.15">20</text>
<line x1="497.65" y1="929.95" x2="502.25" y2="929.95" stroke="#1c1c1c" stroke-width="1.1" stroke-linecap="butt"/>
<text x="497.15" y="933.65" font-size="11.4" text-anchor="end" fill="#0a0a0a" stroke="#0a0a0a" stroke-width="0.15">10</text>
<line x1="497.65" y1="958.50" x2="502.25" y2="958.50" stroke="#1c1c1c" stroke-width="1.1" stroke-linecap="butt"/>
<text x="497.15" y="962.20" font-size="11.4" text-anchor="end" fill="#0a0a0a" stroke="#0a0a0a" stroke-width="0.15">0</text>
<line x1="497.65" y1="987.05" x2="502.25" y2="987.05" stroke="#1c1c1c" stroke-width="1.1" stroke-linecap="butt"/>
<text x="497.15" y="990.75" font-size="11.4" text-anchor="end" fill="#0a0a0a" stroke="#0a0a0a" stroke-width="0.15">-10</text>
<line x1="497.65" y1="1015.60" x2="502.25" y2="1015.60" stroke="#1c1c1c" stroke-width="1.1" stroke-linecap="butt"/>
<text x="497.15" y="1019.30" font-size="11.4" text-anchor="end" fill="#0a0a0a" stroke="#0a0a0a" stroke-width="0.15">-20</text>
<line x1="501.60" y1="958.65" x2="652.00" y2="958.65" stroke="#1c1c1c" stroke-width="1.45" stroke-linecap="butt"/>
<line x1="501.60" y1="1015.60" x2="652.00" y2="1015.60" stroke="#1c1c1c" stroke-width="1.3" stroke-linecap="butt"/>
<line x1="521.00" y1="1015.60" x2="521.00" y2="1019.80" stroke="#1c1c1c" stroke-width="1.2" stroke-linecap="butt"/>
<text x="521.00" y="1030.00" font-size="11.4" text-anchor="middle" fill="#0a0a0a" stroke="#0a0a0a" stroke-width="0.15">0</text>
<line x1="549.25" y1="1015.60" x2="549.25" y2="1019.80" stroke="#1c1c1c" stroke-width="1.2" stroke-linecap="butt"/>
<text x="549.25" y="1030.00" font-size="11.4" text-anchor="middle" fill="#0a0a0a" stroke="#0a0a0a" stroke-width="0.15">1</text>
<line x1="577.25" y1="1015.60" x2="577.25" y2="1019.80" stroke="#1c1c1c" stroke-width="1.2" stroke-linecap="butt"/>
<text x="577.25" y="1030.00" font-size="11.4" text-anchor="middle" fill="#0a0a0a" stroke="#0a0a0a" stroke-width="0.15">2</text>
<line x1="605.50" y1="1015.60" x2="605.50" y2="1019.80" stroke="#1c1c1c" stroke-width="1.2" stroke-linecap="butt"/>
<text x="605.50" y="1030.00" font-size="11.4" text-anchor="middle" fill="#0a0a0a" stroke="#0a0a0a" stroke-width="0.15">3</text>
<line x1="633.50" y1="1015.60" x2="633.50" y2="1019.80" stroke="#1c1c1c" stroke-width="1.2" stroke-linecap="butt"/>
<text x="633.50" y="1030.00" font-size="11.4" text-anchor="middle" fill="#0a0a0a" stroke="#0a0a0a" stroke-width="0.15">4</text>
<text x="577.25" y="1045.20" font-size="11.4" text-anchor="middle" fill="#0a0a0a" stroke="#0a0a0a" stroke-width="0.15">Ossicular chain status</text>
<text x="472.70" y="914.55" font-size="11.4" text-anchor="middle" transform="rotate(-90 472.70 914.55)" fill="#0a0a0a" stroke="#0a0a0a" stroke-width="0.15">ABG shift (dB)</text>
<text x="460.40" y="814.50" font-size="19.5" text-anchor="start" fill="#000" stroke="#000" stroke-width="0.45">L</text>
</svg>
</body></html>
